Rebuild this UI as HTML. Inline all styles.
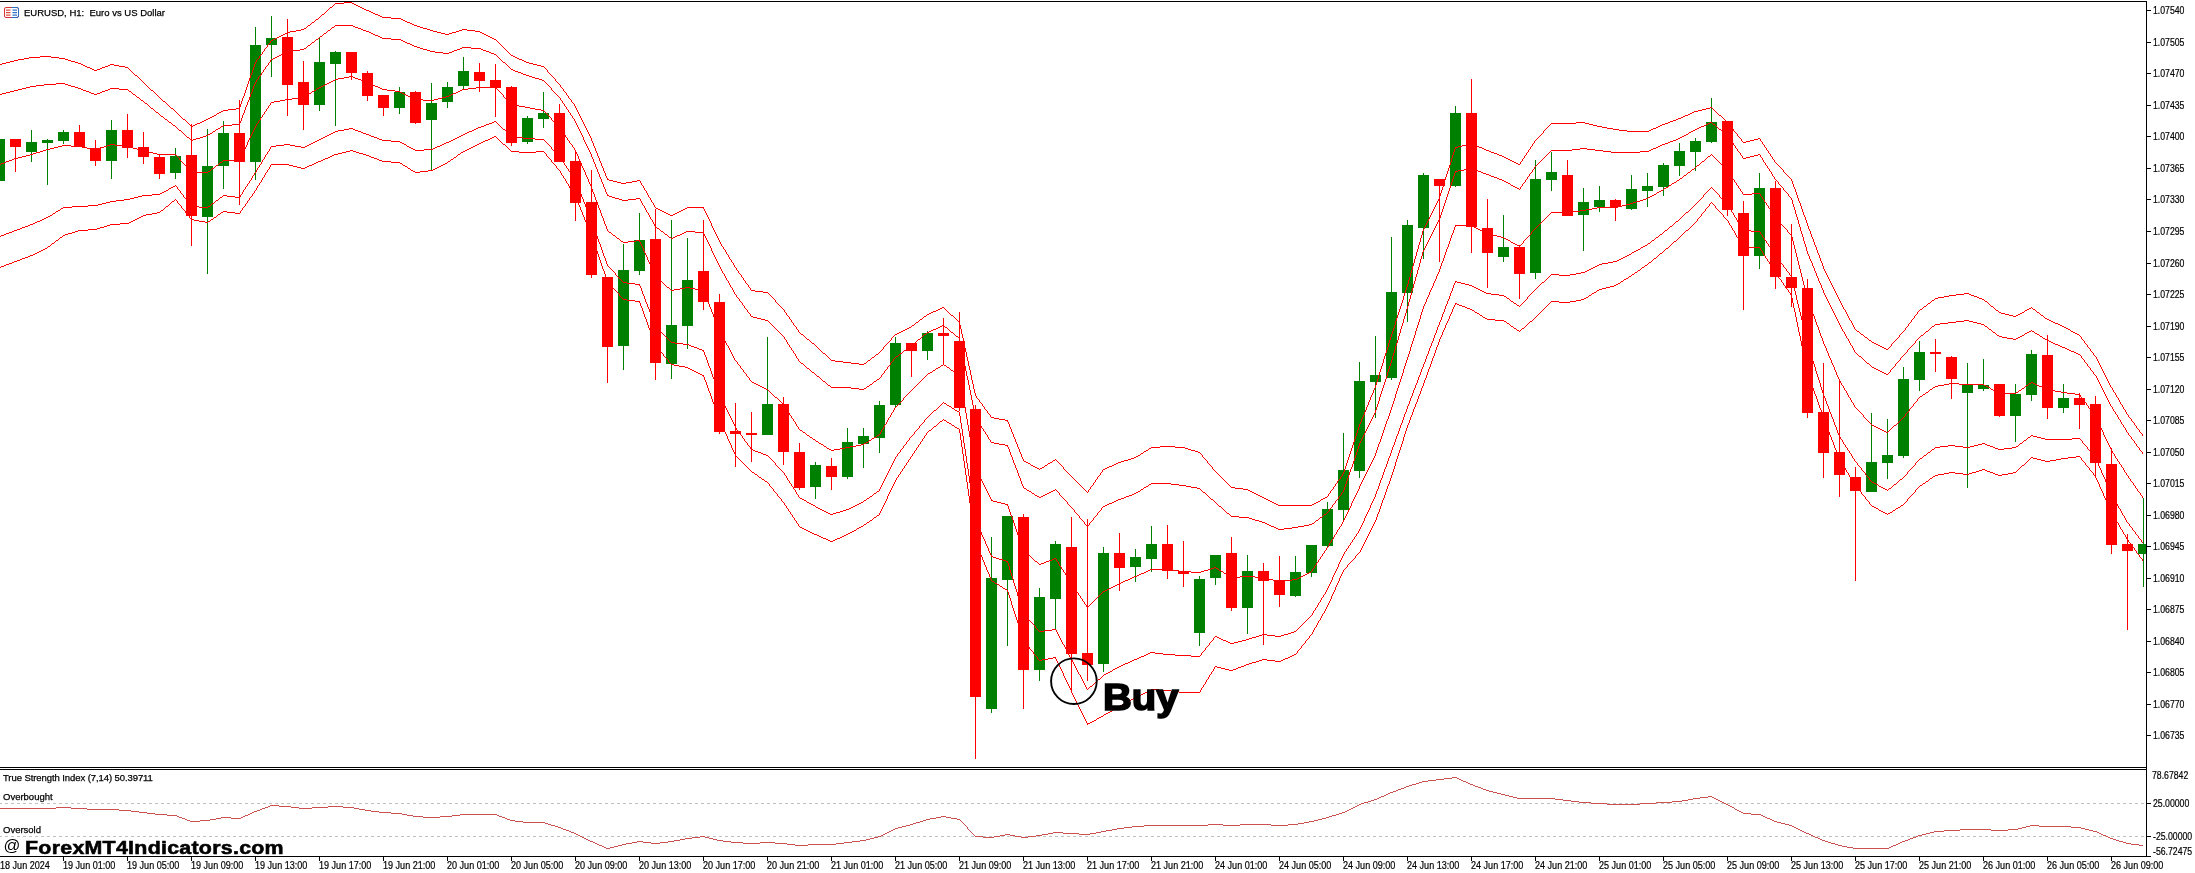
<!DOCTYPE html><html><head><meta charset="utf-8"><title>EURUSD H1</title><style>
html,body{margin:0;padding:0;background:#fff;}
body{width:2195px;height:873px;position:relative;overflow:hidden;font-family:"Liberation Sans",sans-serif;color:#000;}
#tx{position:absolute;left:0;top:0;width:2195px;height:873px;will-change:transform;}
.t{position:absolute;white-space:nowrap;line-height:1;}
.ax{font-size:10px;left:2152.6px;-webkit-text-stroke:0.2px #000;transform-origin:0 0;transform:scaleX(0.87);}
.dt{font-size:10px;top:861.2px;-webkit-text-stroke:0.2px #000;transform-origin:0 0;transform:scaleX(0.905);}
.sm{font-size:9.5px;-webkit-text-stroke:0.25px #000;}
</style></head><body>
<svg width="2195" height="873" viewBox="0 0 2195 873" style="position:absolute;left:0;top:0" shape-rendering="crispEdges">
<defs><clipPath id="cm"><rect x="0" y="2" width="2146" height="765"/></clipPath><clipPath id="ci"><rect x="0" y="770" width="2146" height="86"/></clipPath></defs>
<g clip-path="url(#cm)">
<path d="M-1 139h1v42h-1zM-6 139h11v42h-11zM31 130h1v32h-1zM26 142h11v10h-11zM47 139h1v46h-1zM42 140h11v3h-11zM63 130h1v14h-1zM58 132h11v9h-11zM111 120h1v59h-1zM106 130h11v31h-11zM175 148h1v31h-1zM170 156h11v17h-11zM207 129h1v145h-1zM202 166h11v51h-11zM223 121h1v68h-1zM218 133h11v33h-11zM255 27h1v153h-1zM250 45h11v117h-11zM271 16h1v61h-1zM266 38h11v7h-11zM319 38h1v73h-1zM314 62h11v43h-11zM335 51h1v75h-1zM330 52h11v12h-11zM399 87h1v27h-1zM394 92h11v16h-11zM431 83h1v87h-1zM426 103h11v17h-11zM447 82h1v26h-1zM442 87h11v15h-11zM463 57h1v32h-1zM458 71h11v15h-11zM527 116h1v28h-1zM522 118h11v24h-11zM543 92h1v36h-1zM538 113h11v6h-11zM623 244h1v126h-1zM618 270h11v76h-11zM639 213h1v62h-1zM634 240h11v31h-11zM671 220h1v159h-1zM666 325h11v39h-11zM687 238h1v111h-1zM682 280h11v46h-11zM767 337h1v98h-1zM762 404h11v31h-11zM815 462h1v37h-1zM810 465h11v22h-11zM847 428h1v51h-1zM842 442h11v35h-11zM863 428h1v40h-1zM858 436h11v8h-11zM879 401h1v52h-1zM874 405h11v33h-11zM895 337h1v70h-1zM890 343h11v62h-11zM927 331h1v29h-1zM922 333h11v18h-11zM991 537h1v176h-1zM986 578h11v131h-11zM1007 516h1v130h-1zM1002 516h11v64h-11zM1039 588h1v93h-1zM1034 597h11v73h-11zM1055 541h1v88h-1zM1050 544h11v55h-11zM1103 547h1v125h-1zM1098 553h11v111h-11zM1135 549h1v33h-1zM1130 557h11v10h-11zM1151 526h1v46h-1zM1146 544h11v15h-11zM1199 576h1v70h-1zM1194 579h11v54h-11zM1215 555h1v30h-1zM1210 555h11v23h-11zM1247 555h1v79h-1zM1242 571h11v37h-11zM1295 556h1v41h-1zM1290 572h11v24h-11zM1311 545h1v32h-1zM1306 545h11v28h-11zM1327 502h1v46h-1zM1322 509h11v37h-11zM1343 433h1v89h-1zM1338 470h11v40h-11zM1359 362h1v116h-1zM1354 381h11v90h-11zM1375 336h1v82h-1zM1370 375h11v7h-11zM1391 237h1v143h-1zM1386 292h11v86h-11zM1407 220h1v102h-1zM1402 225h11v68h-11zM1423 173h1v86h-1zM1418 175h11v53h-11zM1455 106h1v81h-1zM1450 113h11v73h-11zM1503 215h1v47h-1zM1498 247h11v10h-11zM1535 160h1v119h-1zM1530 179h11v94h-11zM1551 152h1v39h-1zM1546 172h11v8h-11zM1583 188h1v63h-1zM1578 202h11v13h-11zM1599 186h1v26h-1zM1594 200h11v7h-11zM1631 175h1v35h-1zM1626 189h11v20h-11zM1647 173h1v34h-1zM1642 186h11v5h-11zM1663 163h1v33h-1zM1658 165h11v22h-11zM1679 143h1v33h-1zM1674 151h11v15h-11zM1695 138h1v33h-1zM1690 141h11v11h-11zM1711 98h1v45h-1zM1706 122h11v20h-11zM1759 173h1v96h-1zM1754 188h11v68h-11zM1871 413h1v79h-1zM1866 462h11v30h-11zM1887 419h1v60h-1zM1882 455h11v8h-11zM1903 367h1v91h-1zM1898 379h11v77h-11zM1919 341h1v50h-1zM1914 352h11v28h-11zM1967 363h1v125h-1zM1962 385h11v8h-11zM1983 359h1v32h-1zM1978 385h11v4h-11zM2015 384h1v58h-1zM2010 394h11v22h-11zM2031 350h1v51h-1zM2026 354h11v41h-11zM2063 384h1v29h-1zM2058 398h11v10h-11zM2143 498h1v89h-1zM2138 544h11v10h-11z" fill="#008000"/>
<path d="M15 139h1v33h-1zM10 139h11v8h-11zM79 125h1v22h-1zM74 132h11v15h-11zM95 140h1v26h-1zM90 148h11v13h-11zM127 114h1v44h-1zM122 130h11v18h-11zM143 132h1v32h-1zM138 147h11v10h-11zM159 155h1v24h-1zM154 157h11v17h-11zM191 124h1v122h-1zM186 155h11v61h-11zM239 100h1v105h-1zM234 133h11v29h-11zM287 19h1v97h-1zM282 37h11v48h-11zM303 61h1v69h-1zM298 82h11v23h-11zM351 52h1v28h-1zM346 52h11v21h-11zM367 71h1v30h-1zM362 73h11v23h-11zM383 95h1v21h-1zM378 95h11v13h-11zM415 91h1v33h-1zM410 92h11v31h-11zM479 63h1v29h-1zM474 72h11v9h-11zM495 64h1v53h-1zM490 80h11v8h-11zM511 86h1v60h-1zM506 87h11v56h-11zM559 104h1v58h-1zM554 113h11v49h-11zM575 151h1v70h-1zM570 161h11v42h-11zM591 170h1v108h-1zM586 202h11v73h-11zM607 277h1v106h-1zM602 277h11v70h-11zM655 209h1v171h-1zM650 239h11v124h-11zM703 220h1v90h-1zM698 271h11v31h-11zM719 294h1v140h-1zM714 302h11v130h-11zM735 403h1v64h-1zM730 431h11v3h-11zM751 412h1v50h-1zM746 433h11v2h-11zM783 397h1v68h-1zM778 404h11v48h-11zM799 443h1v47h-1zM794 452h11v36h-11zM831 458h1v32h-1zM826 466h11v11h-11zM911 343h1v34h-1zM906 343h11v8h-11zM943 318h1v46h-1zM938 333h11v3h-11zM959 312h1v99h-1zM954 341h11v67h-11zM975 405h1v354h-1zM970 409h11v288h-11zM1023 514h1v195h-1zM1018 517h11v153h-11zM1071 517h1v175h-1zM1066 547h11v107h-11zM1087 519h1v162h-1zM1082 653h11v12h-11zM1119 533h1v58h-1zM1114 553h11v15h-11zM1167 525h1v54h-1zM1162 544h11v27h-11zM1183 541h1v46h-1zM1178 571h11v3h-11zM1231 537h1v74h-1zM1226 553h11v55h-11zM1263 563h1v82h-1zM1258 571h11v10h-11zM1279 556h1v51h-1zM1274 580h11v15h-11zM1439 179h1v83h-1zM1434 179h11v7h-11zM1471 79h1v174h-1zM1466 113h11v114h-11zM1487 199h1v89h-1zM1482 228h11v25h-11zM1519 245h1v54h-1zM1514 247h11v27h-11zM1567 160h1v56h-1zM1562 175h11v41h-11zM1615 199h1v22h-1zM1610 200h11v7h-11zM1727 121h1v95h-1zM1722 121h11v89h-11zM1743 201h1v109h-1zM1738 213h11v43h-11zM1775 181h1v108h-1zM1770 188h11v89h-11zM1791 224h1v83h-1zM1786 277h11v11h-11zM1807 279h1v139h-1zM1802 288h11v125h-11zM1823 363h1v115h-1zM1818 412h11v41h-11zM1839 380h1v117h-1zM1834 452h11v23h-11zM1855 467h1v114h-1zM1850 477h11v14h-11zM1935 339h1v33h-1zM1930 352h11v2h-11zM1951 356h1v43h-1zM1946 357h11v22h-11zM1999 384h1v33h-1zM1994 384h11v32h-11zM2047 335h1v84h-1zM2042 355h11v53h-11zM2079 393h1v36h-1zM2074 398h11v7h-11zM2095 396h1v82h-1zM2090 404h11v59h-11zM2111 448h1v106h-1zM2106 464h11v81h-11zM2127 534h1v96h-1zM2122 544h11v7h-11z" fill="#ff0000"/>
<path d="M-1 64.5h3M2 63.5h4M6 62.5h4M10 61.5h4M14 60.5h1M15 60.5h3M18 59.5h6M24 58.5h5M29 57.5h2M31 57.5h9M40 56.5h7M47 56.5h4M51 57.5h8M59 58.5h4M63 58.5h2M65 59.5h3M68 60.5h3M71 61.5h4M75 62.5h3M78 63.5h1M79 63.5h2M81 64.5h2M83 65.5h2M85 66.5h2M87 67.5h3M90 68.5h2M92 69.5h2M94 70.5h1M95 70.5h2M97 69.5h3M100 68.5h2M102 67.5h3M105 66.5h3M108 65.5h2M110 64.5h1M111 64.5h3M114 65.5h5M119 66.5h6M125 67.5h2M127 67.5h1M128 68.5h1M129 69.5h1M130 70.5h1M131 71.5h1M132 72.5h1M133 73.5h1M134 74.5h1M135 75.5h2M137 76.5h1M138 77.5h1M139 78.5h1M140 79.5h1M141 80.5h1M142 81.5h1M143 82.5h1M144 83.5h1M145 84.5h1M146 85.5h1M147 86.5h1M148 87.5h1M149 88.5h1M150 89.5h1M151 90.5h2M153 91.5h1M154 92.5h1M155 93.5h1M156 94.5h1M157 95.5h1M158 96.5h1M159 97.5h1M160 98.5h1M161 99.5h1M162 100.5h1M163 101.5h2M165 102.5h1M166 103.5h1M167 104.5h1M168 105.5h1M169 106.5h1M170 107.5h1M171 108.5h2M173 109.5h1M174 110.5h1M175 111.5h1M176 112.5h1M177 113.5h1M178 114.5h1M179 115.5h1M180 116.5h1M181 117.5h1M182 118.5h1M183 119.5h2M185 120.5h1M186 121.5h1M187 122.5h1M188 123.5h1M189 124.5h1M190 125.5h1M191 126.5h2M193 125.5h2M195 124.5h2M197 123.5h3M200 122.5h2M202 121.5h2M204 120.5h2M206 119.5h1M207 119.5h1M208 118.5h2M210 117.5h2M212 116.5h2M214 115.5h2M216 114.5h1M217 113.5h2M219 112.5h2M221 111.5h2M223 110.5h5M228 109.5h8M236 108.5h3M271 40.5h2M273 39.5h2M275 38.5h2M277 37.5h2M279 36.5h2M281 35.5h2M283 34.5h2M285 33.5h2M287 32.5h3M290 31.5h6M296 30.5h5M301 29.5h2M303 29.5h1M304 28.5h2M306 27.5h1M307 26.5h1M308 25.5h2M310 24.5h1M311 23.5h1M312 22.5h2M314 21.5h1M315 20.5h1M316 19.5h2M318 18.5h1M319 17.5h1M320 16.5h1M321 15.5h1M322 14.5h2M324 13.5h1M325 12.5h1M326 11.5h1M327 10.5h1M328 9.5h1M329 8.5h1M330 7.5h2M332 6.5h1M333 5.5h1M334 4.5h1M335 3.5h9M344 2.5h7M351 2.5h1M352 3.5h2M354 4.5h2M356 5.5h2M358 6.5h2M360 7.5h2M362 8.5h2M364 9.5h2M366 10.5h1M367 10.5h2M369 11.5h2M371 12.5h2M373 13.5h2M375 14.5h3M378 15.5h2M380 16.5h2M382 17.5h1M383 17.5h8M391 18.5h8M399 18.5h2M401 19.5h2M403 20.5h2M405 21.5h2M407 22.5h3M410 23.5h2M412 24.5h2M414 25.5h1M415 25.5h2M417 26.5h3M420 27.5h3M423 28.5h4M427 29.5h3M430 30.5h1M431 30.5h2M433 31.5h4M437 32.5h4M441 33.5h4M445 34.5h2M447 34.5h2M449 33.5h3M452 32.5h4M456 31.5h3M459 30.5h3M462 29.5h1M463 29.5h4M467 30.5h8M475 31.5h4M479 31.5h1M480 32.5h2M482 33.5h2M484 34.5h2M486 35.5h2M488 36.5h2M490 37.5h2M492 38.5h2M494 39.5h1M495 39.5h1M496 40.5h1M497 41.5h1M498 42.5h1M499 43.5h1M500 44.5h1M501 45.5h1M502 46.5h1M503 47.5h1M504 48.5h1M505 49.5h1M506 50.5h1M507 51.5h1M508 52.5h1M509 53.5h1M510 54.5h1M511 55.5h2M513 56.5h2M515 57.5h2M517 58.5h2M519 59.5h3M522 60.5h2M524 61.5h2M526 62.5h1M527 62.5h2M529 63.5h4M533 64.5h4M537 65.5h4M541 66.5h2M607 179.5h2M609 180.5h4M613 181.5h4M617 182.5h4M621 183.5h2M623 183.5h3M626 182.5h6M632 181.5h5M637 180.5h2M655 207.5h1M656 208.5h2M658 209.5h2M660 210.5h2M662 211.5h2M664 212.5h2M666 213.5h2M668 214.5h2M670 215.5h1M671 215.5h2M673 214.5h2M675 213.5h2M677 212.5h2M679 211.5h2M681 210.5h2M683 209.5h2M685 208.5h2M687 207.5h16M751 290.5h4M755 291.5h8M763 292.5h4M799 332.5h1M800 333.5h1M801 334.5h2M803 335.5h1M804 336.5h1M805 337.5h1M806 338.5h1M807 339.5h2M809 340.5h1M810 341.5h1M811 342.5h1M812 343.5h2M814 344.5h1M815 345.5h1M816 346.5h1M817 347.5h1M818 348.5h1M819 349.5h1M820 350.5h1M821 351.5h1M822 352.5h1M823 353.5h2M825 354.5h1M826 355.5h1M827 356.5h1M828 357.5h1M829 358.5h1M830 359.5h1M831 360.5h4M835 361.5h8M843 362.5h4M847 362.5h4M851 363.5h8M859 364.5h4M863 364.5h1M864 363.5h2M866 362.5h1M867 361.5h1M868 360.5h2M870 359.5h1M871 358.5h1M872 357.5h2M874 356.5h1M875 355.5h1M876 354.5h2M878 353.5h1M895 334.5h2M897 333.5h2M899 332.5h2M901 331.5h2M903 330.5h2M905 329.5h2M907 328.5h2M909 327.5h2M911 326.5h1M912 325.5h2M914 324.5h1M915 323.5h1M916 322.5h2M918 321.5h1M919 320.5h1M920 319.5h2M922 318.5h1M923 317.5h1M924 316.5h2M926 315.5h1M927 314.5h2M929 313.5h2M931 312.5h2M933 311.5h3M936 310.5h2M938 309.5h2M940 308.5h2M942 307.5h1M943 307.5h1M944 308.5h1M945 309.5h1M946 310.5h1M947 311.5h1M948 312.5h1M949 313.5h1M950 314.5h1M951 315.5h2M953 316.5h1M954 317.5h1M955 318.5h1M956 319.5h1M957 320.5h1M958 321.5h1M991 417.5h3M994 418.5h5M999 419.5h6M1005 420.5h2M1023 460.5h1M1024 461.5h2M1026 462.5h2M1028 463.5h2M1030 464.5h1M1031 465.5h2M1033 466.5h2M1035 467.5h2M1037 468.5h2M1039 469.5h1M1040 468.5h2M1042 467.5h2M1044 466.5h1M1045 465.5h2M1047 464.5h1M1048 463.5h2M1050 462.5h2M1052 461.5h1M1053 460.5h2M1071 476.5h1M1072 477.5h1M1073 478.5h1M1074 479.5h1M1075 480.5h1M1076 481.5h1M1077 482.5h1M1078 483.5h1M1079 484.5h1M1080 485.5h1M1081 486.5h1M1082 487.5h1M1083 488.5h1M1084 489.5h1M1085 490.5h1M1086 491.5h1M1103 469.5h2M1105 468.5h2M1107 467.5h2M1109 466.5h3M1112 465.5h2M1114 464.5h2M1116 463.5h2M1118 462.5h1M1119 462.5h2M1121 461.5h3M1124 460.5h4M1128 459.5h3M1131 458.5h3M1134 457.5h1M1135 457.5h1M1136 456.5h2M1138 455.5h2M1140 454.5h1M1141 453.5h2M1143 452.5h1M1144 451.5h2M1146 450.5h2M1148 449.5h1M1149 448.5h2M1151 447.5h9M1160 446.5h7M1167 446.5h8M1175 447.5h8M1183 447.5h2M1185 448.5h3M1188 449.5h3M1191 450.5h4M1195 451.5h3M1198 452.5h1M1215 471.5h1M1216 472.5h1M1217 473.5h1M1218 474.5h1M1219 475.5h1M1220 476.5h1M1221 477.5h1M1222 478.5h1M1223 479.5h1M1224 480.5h1M1225 481.5h1M1226 482.5h1M1227 483.5h1M1228 484.5h1M1229 485.5h1M1230 486.5h1M1231 487.5h4M1235 488.5h8M1243 489.5h4M1247 489.5h1M1248 490.5h2M1250 491.5h2M1252 492.5h2M1254 493.5h2M1256 494.5h2M1258 495.5h2M1260 496.5h2M1262 497.5h1M1263 497.5h1M1264 498.5h2M1266 499.5h2M1268 500.5h2M1270 501.5h2M1272 502.5h2M1274 503.5h2M1276 504.5h2M1278 505.5h1M1279 505.5h16M1295 505.5h16M1311 505.5h1M1312 504.5h2M1314 503.5h2M1316 502.5h2M1318 501.5h2M1320 500.5h1M1321 499.5h2M1323 498.5h2M1325 497.5h2M1455 147.5h3M1458 146.5h4M1462 145.5h4M1466 144.5h4M1470 143.5h1M1471 143.5h2M1473 144.5h2M1475 145.5h2M1477 146.5h2M1479 147.5h3M1482 148.5h2M1484 149.5h2M1486 150.5h1M1487 150.5h2M1489 151.5h2M1491 152.5h3M1494 153.5h3M1497 154.5h2M1499 155.5h3M1502 156.5h1M1503 156.5h1M1504 157.5h2M1506 158.5h2M1508 159.5h2M1510 160.5h2M1512 161.5h2M1514 162.5h2M1516 163.5h2M1518 164.5h1M1551 123.5h16M1567 123.5h9M1576 122.5h7M1583 122.5h2M1585 123.5h4M1589 124.5h4M1593 125.5h4M1597 126.5h2M1599 126.5h3M1602 127.5h5M1607 128.5h6M1613 129.5h2M1615 129.5h4M1619 130.5h8M1627 131.5h4M1631 131.5h16M1647 131.5h2M1649 130.5h2M1651 129.5h2M1653 128.5h3M1656 127.5h2M1658 126.5h2M1660 125.5h2M1662 124.5h1M1663 124.5h2M1665 123.5h3M1668 122.5h2M1670 121.5h3M1673 120.5h3M1676 119.5h2M1678 118.5h1M1679 118.5h2M1681 117.5h2M1683 116.5h2M1685 115.5h3M1688 114.5h2M1690 113.5h2M1692 112.5h2M1694 111.5h1M1695 111.5h3M1698 110.5h4M1702 109.5h4M1706 108.5h4M1710 107.5h1M1711 107.5h1M1712 108.5h1M1713 109.5h1M1714 110.5h1M1715 111.5h1M1716 112.5h1M1717 113.5h1M1718 114.5h1M1719 115.5h2M1721 116.5h1M1722 117.5h1M1723 118.5h1M1724 119.5h1M1725 120.5h1M1726 121.5h1M1743 142.5h3M1746 141.5h4M1750 140.5h4M1754 139.5h4M1758 138.5h1M1855 329.5h1M1856 330.5h1M1857 331.5h2M1859 332.5h1M1860 333.5h1M1861 334.5h2M1863 335.5h1M1864 336.5h1M1865 337.5h2M1867 338.5h1M1868 339.5h1M1869 340.5h2M1871 341.5h1M1872 342.5h2M1874 343.5h2M1876 344.5h2M1878 345.5h2M1880 346.5h2M1882 347.5h2M1884 348.5h2M1886 349.5h1M1919 310.5h1M1920 309.5h2M1922 308.5h1M1923 307.5h1M1924 306.5h2M1926 305.5h1M1927 304.5h1M1928 303.5h2M1930 302.5h1M1931 301.5h1M1932 300.5h2M1934 299.5h1M1935 298.5h3M1938 297.5h6M1944 296.5h5M1949 295.5h2M1951 295.5h5M1956 294.5h8M1964 293.5h3M1967 293.5h2M1969 294.5h2M1971 295.5h3M1974 296.5h3M1977 297.5h2M1979 298.5h3M1982 299.5h1M1983 299.5h1M1984 300.5h1M1985 301.5h2M1987 302.5h1M1988 303.5h1M1989 304.5h1M1990 305.5h1M1991 306.5h2M1993 307.5h1M1994 308.5h1M1995 309.5h1M1996 310.5h2M1998 311.5h1M1999 312.5h2M2001 313.5h4M2005 314.5h4M2009 315.5h4M2013 316.5h2M2015 316.5h1M2016 315.5h2M2018 314.5h2M2020 313.5h2M2022 312.5h2M2024 311.5h1M2025 310.5h2M2027 309.5h2M2029 308.5h2M2031 307.5h1M2032 308.5h1M2033 309.5h2M2035 310.5h1M2036 311.5h1M2037 312.5h2M2039 313.5h1M2040 314.5h1M2041 315.5h2M2043 316.5h1M2044 317.5h1M2045 318.5h2M2047 319.5h2M2049 320.5h2M2051 321.5h2M2053 322.5h2M2055 323.5h3M2058 324.5h2M2060 325.5h2M2062 326.5h1M2063 326.5h1M2064 327.5h2M2066 328.5h2M2068 329.5h2M2070 330.5h1M2071 331.5h2M2073 332.5h2M2075 333.5h2M2077 334.5h2M239.5 107v2M240.5 104v3M241.5 101v3M242.5 98v3M243.5 96v2M244.5 93v3M245.5 90v3M246.5 87v3M247.5 84v3M248.5 81v3M249.5 78v3M250.5 75v3M251.5 73v2M252.5 70v3M253.5 67v3M254.5 64v3M255.5 63v1M255.5 62v1M256.5 60v2M257.5 59v1M258.5 58v1M259.5 56v2M260.5 55v1M261.5 54v1M262.5 52v2M263.5 51v1M264.5 49v2M265.5 48v1M266.5 47v1M267.5 45v2M268.5 44v1M269.5 43v1M270.5 41v2M543.5 66v1M544.5 67v1M545.5 68v1M546.5 69v1M547.5 70v2M548.5 72v1M549.5 73v1M550.5 74v1M551.5 75v1M552.5 76v1M553.5 77v1M554.5 78v1M555.5 79v2M556.5 81v1M557.5 82v1M558.5 83v1M559.5 84v1M560.5 85v2M561.5 87v1M562.5 88v1M563.5 89v2M564.5 91v1M565.5 92v1M566.5 93v2M567.5 95v1M568.5 96v2M569.5 98v1M570.5 99v1M571.5 100v2M572.5 102v1M573.5 103v1M574.5 104v2M575.5 106v2M576.5 108v2M577.5 110v2M578.5 112v2M579.5 114v2M580.5 116v2M581.5 118v2M582.5 120v2M583.5 122v2M584.5 124v2M585.5 126v2M586.5 128v2M587.5 130v2M588.5 132v2M589.5 134v2M590.5 136v2M591.5 138v1M591.5 139v2M592.5 141v2M593.5 143v3M594.5 146v2M595.5 148v3M596.5 151v2M597.5 153v3M598.5 156v2M599.5 158v3M600.5 161v2M601.5 163v3M602.5 166v2M603.5 168v3M604.5 171v2M605.5 173v3M606.5 176v2M607.5 178v1M639.5 180v1M640.5 181v2M641.5 183v2M642.5 185v1M643.5 186v2M644.5 188v2M645.5 190v1M646.5 191v2M647.5 193v2M648.5 195v2M649.5 197v1M650.5 198v2M651.5 200v2M652.5 202v1M653.5 203v2M654.5 205v2M703.5 207v2M704.5 209v2M705.5 211v2M706.5 213v2M707.5 215v2M708.5 217v2M709.5 219v2M710.5 221v2M711.5 223v3M712.5 226v2M713.5 228v2M714.5 230v2M715.5 232v2M716.5 234v2M717.5 236v2M718.5 238v2M719.5 240v1M719.5 241v1M720.5 242v2M721.5 244v2M722.5 246v1M723.5 247v2M724.5 249v1M725.5 250v2M726.5 252v2M727.5 254v1M728.5 255v2M729.5 257v2M730.5 259v1M731.5 260v2M732.5 262v1M733.5 263v2M734.5 265v2M735.5 267v1M736.5 268v2M737.5 270v1M738.5 271v2M739.5 273v1M740.5 274v1M741.5 275v2M742.5 277v1M743.5 278v2M744.5 280v1M745.5 281v2M746.5 283v1M747.5 284v1M748.5 285v2M749.5 287v1M750.5 288v2M767.5 292v1M768.5 293v1M769.5 294v1M770.5 295v1M771.5 296v1M772.5 297v1M773.5 298v1M774.5 299v1M775.5 300v2M776.5 302v1M777.5 303v1M778.5 304v1M779.5 305v1M780.5 306v1M781.5 307v1M782.5 308v1M783.5 309v1M784.5 310v2M785.5 312v1M786.5 313v2M787.5 315v1M788.5 316v1M789.5 317v2M790.5 319v1M791.5 320v2M792.5 322v1M793.5 323v2M794.5 325v1M795.5 326v1M796.5 327v2M797.5 329v1M798.5 330v2M879.5 352v1M880.5 351v1M881.5 350v1M882.5 349v1M883.5 347v2M884.5 346v1M885.5 345v1M886.5 344v1M887.5 343v1M888.5 342v1M889.5 341v1M890.5 340v1M891.5 338v2M892.5 337v1M893.5 336v1M894.5 335v1M959.5 322v3M960.5 325v4M961.5 329v5M962.5 334v4M963.5 338v5M964.5 343v5M965.5 348v4M966.5 352v5M967.5 357v4M968.5 361v5M969.5 366v4M970.5 370v5M971.5 375v5M972.5 380v4M973.5 384v5M974.5 389v4M975.5 393v2M975.5 395v1M976.5 396v2M977.5 398v1M978.5 399v1M979.5 400v2M980.5 402v1M981.5 403v1M982.5 404v2M983.5 406v1M984.5 407v2M985.5 409v1M986.5 410v1M987.5 411v2M988.5 413v1M989.5 414v1M990.5 415v2M1007.5 420v2M1008.5 422v2M1009.5 424v3M1010.5 427v2M1011.5 429v3M1012.5 432v2M1013.5 434v3M1014.5 437v2M1015.5 439v3M1016.5 442v2M1017.5 444v3M1018.5 447v2M1019.5 449v3M1020.5 452v2M1021.5 454v3M1022.5 457v2M1023.5 459v1M1055.5 459v1M1056.5 460v1M1057.5 461v1M1058.5 462v1M1059.5 463v1M1060.5 464v1M1061.5 465v1M1062.5 466v1M1063.5 467v2M1064.5 469v1M1065.5 470v1M1066.5 471v1M1067.5 472v1M1068.5 473v1M1069.5 474v1M1070.5 475v1M1087.5 492v1M1088.5 490v2M1089.5 489v1M1090.5 487v2M1091.5 486v1M1092.5 485v1M1093.5 483v2M1094.5 482v1M1095.5 480v2M1096.5 479v1M1097.5 477v2M1098.5 476v1M1099.5 475v1M1100.5 473v2M1101.5 472v1M1102.5 470v2M1199.5 452v1M1200.5 453v1M1201.5 454v1M1202.5 455v2M1203.5 457v1M1204.5 458v1M1205.5 459v1M1206.5 460v1M1207.5 461v2M1208.5 463v1M1209.5 464v1M1210.5 465v1M1211.5 466v1M1212.5 467v2M1213.5 469v1M1214.5 470v1M1327.5 496v1M1328.5 494v2M1329.5 493v1M1330.5 491v2M1331.5 490v1M1332.5 489v1M1333.5 487v2M1334.5 486v1M1335.5 484v2M1336.5 483v1M1337.5 481v2M1338.5 480v1M1339.5 479v1M1340.5 477v2M1341.5 476v1M1342.5 474v2M1343.5 472v2M1344.5 469v3M1345.5 466v3M1346.5 463v3M1347.5 460v3M1348.5 457v3M1349.5 454v3M1350.5 451v3M1351.5 448v3M1352.5 445v3M1353.5 442v3M1354.5 439v3M1355.5 436v3M1356.5 433v3M1357.5 430v3M1358.5 427v3M1359.5 426v1M1359.5 424v2M1360.5 422v2M1361.5 419v3M1362.5 417v2M1363.5 415v2M1364.5 412v3M1365.5 410v2M1366.5 407v3M1367.5 405v2M1368.5 402v3M1369.5 400v2M1370.5 397v3M1371.5 395v2M1372.5 393v2M1373.5 390v3M1374.5 388v2M1375.5 387v1M1375.5 385v2M1376.5 382v3M1377.5 379v3M1378.5 375v4M1379.5 372v3M1380.5 369v3M1381.5 366v3M1382.5 363v3M1383.5 359v4M1384.5 356v3M1385.5 353v3M1386.5 350v3M1387.5 347v3M1388.5 343v4M1389.5 340v3M1390.5 337v3M1391.5 336v1M1391.5 334v2M1392.5 331v3M1393.5 328v3M1394.5 325v3M1395.5 321v4M1396.5 318v3M1397.5 315v3M1398.5 312v3M1399.5 309v3M1400.5 306v3M1401.5 303v3M1402.5 300v3M1403.5 296v4M1404.5 293v3M1405.5 290v3M1406.5 287v3M1407.5 286v1M1407.5 284v2M1408.5 280v4M1409.5 277v3M1410.5 273v4M1411.5 270v3M1412.5 266v4M1413.5 263v3M1414.5 259v4M1415.5 256v3M1416.5 252v4M1417.5 249v3M1418.5 245v4M1419.5 242v3M1420.5 238v4M1421.5 235v3M1422.5 231v4M1423.5 230v1M1423.5 229v1M1424.5 227v2M1425.5 225v2M1426.5 223v2M1427.5 221v2M1428.5 219v2M1429.5 217v2M1430.5 215v2M1431.5 213v2M1432.5 211v2M1433.5 209v2M1434.5 207v2M1435.5 205v2M1436.5 203v2M1437.5 201v2M1438.5 199v2M1439.5 198v1M1439.5 196v2M1440.5 193v3M1441.5 190v3M1442.5 187v3M1443.5 183v4M1444.5 180v3M1445.5 177v3M1446.5 174v3M1447.5 171v3M1448.5 168v3M1449.5 165v3M1450.5 162v3M1451.5 158v4M1452.5 155v3M1453.5 152v3M1454.5 149v3M1455.5 148v1M1519.5 164v1M1520.5 162v2M1521.5 161v1M1522.5 159v2M1523.5 158v1M1524.5 156v2M1525.5 155v1M1526.5 153v2M1527.5 152v1M1528.5 150v2M1529.5 149v1M1530.5 147v2M1531.5 146v1M1532.5 144v2M1533.5 143v1M1534.5 141v2M1535.5 140v1M1536.5 139v1M1537.5 138v1M1538.5 137v1M1539.5 136v1M1540.5 135v1M1541.5 134v1M1542.5 133v1M1543.5 131v2M1544.5 130v1M1545.5 129v1M1546.5 128v1M1547.5 127v1M1548.5 126v1M1549.5 125v1M1550.5 124v1M1727.5 122v1M1728.5 123v1M1729.5 124v2M1730.5 126v1M1731.5 127v1M1732.5 128v1M1733.5 129v2M1734.5 131v1M1735.5 132v1M1736.5 133v1M1737.5 134v2M1738.5 136v1M1739.5 137v1M1740.5 138v1M1741.5 139v2M1742.5 141v1M1759.5 138v1M1760.5 139v2M1761.5 141v1M1762.5 142v2M1763.5 144v1M1764.5 145v2M1765.5 147v1M1766.5 148v2M1767.5 150v1M1768.5 151v2M1769.5 153v1M1770.5 154v2M1771.5 156v1M1772.5 157v2M1773.5 159v1M1774.5 160v2M1775.5 162v1M1776.5 163v1M1777.5 164v1M1778.5 165v1M1779.5 166v1M1780.5 167v1M1781.5 168v1M1782.5 169v1M1783.5 170v2M1784.5 172v1M1785.5 173v1M1786.5 174v1M1787.5 175v1M1788.5 176v1M1789.5 177v1M1790.5 178v1M1791.5 179v2M1792.5 181v3M1793.5 184v3M1794.5 187v2M1795.5 189v3M1796.5 192v3M1797.5 195v3M1798.5 198v3M1799.5 201v2M1800.5 203v3M1801.5 206v3M1802.5 209v3M1803.5 212v3M1804.5 215v2M1805.5 217v3M1806.5 220v3M1807.5 223v1M1807.5 224v2M1808.5 226v3M1809.5 229v2M1810.5 231v3M1811.5 234v3M1812.5 237v2M1813.5 239v3M1814.5 242v3M1815.5 245v2M1816.5 247v3M1817.5 250v3M1818.5 253v2M1819.5 255v3M1820.5 258v3M1821.5 261v2M1822.5 263v3M1823.5 266v1M1823.5 267v2M1824.5 269v2M1825.5 271v2M1826.5 273v2M1827.5 275v2M1828.5 277v2M1829.5 279v2M1830.5 281v2M1831.5 283v2M1832.5 285v2M1833.5 287v2M1834.5 289v2M1835.5 291v2M1836.5 293v2M1837.5 295v2M1838.5 297v2M1839.5 299v1M1839.5 300v1M1840.5 301v2M1841.5 303v2M1842.5 305v2M1843.5 307v2M1844.5 309v1M1845.5 310v2M1846.5 312v2M1847.5 314v2M1848.5 316v2M1849.5 318v2M1850.5 320v1M1851.5 321v2M1852.5 323v2M1853.5 325v2M1854.5 327v2M1887.5 349v1M1888.5 348v1M1889.5 347v1M1890.5 346v1M1891.5 344v2M1892.5 343v1M1893.5 342v1M1894.5 341v1M1895.5 340v1M1896.5 339v1M1897.5 338v1M1898.5 337v1M1899.5 335v2M1900.5 334v1M1901.5 333v1M1902.5 332v1M1903.5 331v1M1904.5 330v1M1905.5 328v2M1906.5 327v1M1907.5 326v1M1908.5 324v2M1909.5 323v1M1910.5 322v1M1911.5 320v2M1912.5 319v1M1913.5 318v1M1914.5 316v2M1915.5 315v1M1916.5 314v1M1917.5 312v2M1918.5 311v1M2079.5 335v1M2080.5 336v1M2081.5 337v2M2082.5 339v1M2083.5 340v1M2084.5 341v2M2085.5 343v1M2086.5 344v1M2087.5 345v2M2088.5 347v1M2089.5 348v1M2090.5 349v2M2091.5 351v1M2092.5 352v1M2093.5 353v2M2094.5 355v1M2095.5 356v1M2096.5 357v2M2097.5 359v2M2098.5 361v2M2099.5 363v2M2100.5 365v2M2101.5 367v2M2102.5 369v2M2103.5 371v2M2104.5 373v2M2105.5 375v2M2106.5 377v2M2107.5 379v2M2108.5 381v2M2109.5 383v2M2110.5 385v2M2111.5 387v1M2112.5 388v2M2113.5 390v2M2114.5 392v1M2115.5 393v2M2116.5 395v2M2117.5 397v1M2118.5 398v2M2119.5 400v2M2120.5 402v2M2121.5 404v1M2122.5 405v2M2123.5 407v2M2124.5 409v1M2125.5 410v2M2126.5 412v2M2127.5 414v1M2128.5 415v2M2129.5 417v1M2130.5 418v1M2131.5 419v2M2132.5 421v1M2133.5 422v1M2134.5 423v2M2135.5 425v1M2136.5 426v2M2137.5 428v1M2138.5 429v1M2139.5 430v2M2140.5 432v1M2141.5 433v1M2142.5 434v2" fill="none" stroke="#ff0000" stroke-width="1"/>
<path d="M-1 94.5h3M2 93.5h4M6 92.5h4M10 91.5h4M14 90.5h1M15 90.5h3M18 89.5h4M22 88.5h4M26 87.5h4M30 86.5h1M31 86.5h5M36 85.5h8M44 84.5h3M47 84.5h9M56 83.5h7M63 83.5h2M65 84.5h3M68 85.5h3M71 86.5h4M75 87.5h3M78 88.5h1M79 88.5h2M81 89.5h2M83 90.5h3M86 91.5h3M89 92.5h2M91 93.5h3M94 94.5h1M95 94.5h2M97 93.5h3M100 92.5h2M102 91.5h3M105 90.5h3M108 89.5h2M110 88.5h1M111 88.5h8M119 89.5h8M127 89.5h1M128 90.5h1M129 91.5h2M131 92.5h1M132 93.5h1M133 94.5h2M135 95.5h1M136 96.5h1M137 97.5h2M139 98.5h1M140 99.5h1M141 100.5h2M143 101.5h1M144 102.5h1M145 103.5h2M147 104.5h1M148 105.5h1M149 106.5h1M150 107.5h1M151 108.5h2M153 109.5h1M154 110.5h1M155 111.5h1M156 112.5h2M158 113.5h1M159 114.5h1M160 115.5h1M161 116.5h2M163 117.5h1M164 118.5h1M165 119.5h2M167 120.5h1M168 121.5h1M169 122.5h2M171 123.5h1M172 124.5h1M173 125.5h2M175 126.5h1M176 127.5h1M177 128.5h1M178 129.5h1M179 130.5h2M181 131.5h1M182 132.5h1M183 133.5h1M184 134.5h1M185 135.5h1M186 136.5h1M187 137.5h2M189 138.5h1M190 139.5h1M191 140.5h2M193 139.5h3M196 138.5h4M200 137.5h3M203 136.5h3M206 135.5h1M207 135.5h1M208 134.5h2M210 133.5h2M212 132.5h1M213 131.5h2M215 130.5h1M216 129.5h2M218 128.5h2M220 127.5h1M221 126.5h2M223 125.5h9M232 124.5h7M271 59.5h2M273 58.5h2M275 57.5h2M277 56.5h2M279 55.5h2M281 54.5h2M283 53.5h2M285 52.5h2M287 51.5h5M292 50.5h8M300 49.5h3M303 49.5h1M304 48.5h2M306 47.5h1M307 46.5h1M308 45.5h2M310 44.5h1M311 43.5h1M312 42.5h2M314 41.5h1M315 40.5h1M316 39.5h2M318 38.5h1M319 37.5h1M320 36.5h2M322 35.5h1M323 34.5h1M324 33.5h2M326 32.5h1M327 31.5h1M328 30.5h2M330 29.5h1M331 28.5h1M332 27.5h2M334 26.5h1M335 25.5h16M351 25.5h2M353 26.5h2M355 27.5h3M358 28.5h3M361 29.5h2M363 30.5h3M366 31.5h1M367 31.5h2M369 32.5h2M371 33.5h2M373 34.5h2M375 35.5h3M378 36.5h2M380 37.5h2M382 38.5h1M383 38.5h8M391 39.5h8M399 39.5h2M401 40.5h2M403 41.5h2M405 42.5h2M407 43.5h3M410 44.5h2M412 45.5h2M414 46.5h1M415 46.5h2M417 47.5h3M420 48.5h3M423 49.5h4M427 50.5h3M430 51.5h1M431 51.5h4M435 52.5h8M443 53.5h4M447 53.5h2M449 52.5h3M452 51.5h2M454 50.5h3M457 49.5h3M460 48.5h2M462 47.5h1M463 47.5h8M471 48.5h8M479 48.5h2M481 49.5h2M483 50.5h3M486 51.5h3M489 52.5h2M491 53.5h3M494 54.5h1M495 54.5h1M496 55.5h1M497 56.5h1M498 57.5h1M499 58.5h1M500 59.5h1M501 60.5h1M502 61.5h1M503 62.5h2M505 63.5h1M506 64.5h1M507 65.5h1M508 66.5h1M509 67.5h1M510 68.5h1M511 69.5h2M513 70.5h2M515 71.5h3M518 72.5h3M521 73.5h2M523 74.5h3M526 75.5h1M527 75.5h2M529 76.5h3M532 77.5h3M535 78.5h4M539 79.5h3M542 80.5h1M607 195.5h2M609 196.5h3M612 197.5h3M615 198.5h4M619 199.5h3M622 200.5h1M623 200.5h5M628 199.5h8M636 198.5h3M655 226.5h1M656 227.5h1M657 228.5h2M659 229.5h1M660 230.5h1M661 231.5h2M663 232.5h1M664 233.5h1M665 234.5h2M667 235.5h1M668 236.5h1M669 237.5h2M671 238.5h2M673 237.5h2M675 236.5h2M677 235.5h3M680 234.5h2M682 233.5h2M684 232.5h2M686 231.5h1M687 231.5h8M695 232.5h8M751 316.5h2M753 317.5h4M757 318.5h4M761 319.5h4M765 320.5h2M767 320.5h1M768 321.5h1M769 322.5h1M770 323.5h1M771 324.5h1M772 325.5h1M773 326.5h1M774 327.5h1M775 328.5h1M776 329.5h1M777 330.5h1M778 331.5h1M779 332.5h1M780 333.5h1M781 334.5h1M782 335.5h1M799 361.5h1M800 362.5h1M801 363.5h2M803 364.5h1M804 365.5h1M805 366.5h1M806 367.5h1M807 368.5h2M809 369.5h1M810 370.5h1M811 371.5h1M812 372.5h2M814 373.5h1M815 374.5h1M816 375.5h1M817 376.5h2M819 377.5h1M820 378.5h1M821 379.5h1M822 380.5h1M823 381.5h2M825 382.5h1M826 383.5h1M827 384.5h1M828 385.5h2M830 386.5h1M831 387.5h16M847 387.5h4M851 388.5h8M859 389.5h4M863 389.5h1M864 388.5h2M866 387.5h1M867 386.5h2M869 385.5h1M870 384.5h2M872 383.5h1M873 382.5h1M874 381.5h2M876 380.5h1M877 379.5h2M895 357.5h1M896 356.5h2M898 355.5h1M899 354.5h1M900 353.5h2M902 352.5h1M903 351.5h1M904 350.5h2M906 349.5h1M907 348.5h1M908 347.5h2M910 346.5h1M911 345.5h1M912 344.5h1M913 343.5h2M915 342.5h1M916 341.5h1M917 340.5h1M918 339.5h2M920 338.5h1M921 337.5h1M922 336.5h1M923 335.5h1M924 334.5h2M926 333.5h1M927 332.5h2M929 331.5h2M931 330.5h2M933 329.5h3M936 328.5h2M938 327.5h2M940 326.5h2M942 325.5h1M943 325.5h1M944 326.5h1M945 327.5h2M947 328.5h1M948 329.5h1M949 330.5h1M950 331.5h1M951 332.5h2M953 333.5h1M954 334.5h1M955 335.5h1M956 336.5h2M958 337.5h1M991 442.5h3M994 443.5h5M999 444.5h6M1005 445.5h2M1023 487.5h1M1024 488.5h2M1026 489.5h1M1027 490.5h2M1029 491.5h2M1031 492.5h1M1032 493.5h2M1034 494.5h1M1035 495.5h2M1037 496.5h2M1039 497.5h2M1041 496.5h2M1043 495.5h2M1045 494.5h2M1047 493.5h2M1049 492.5h2M1051 491.5h2M1053 490.5h2M1103 506.5h2M1105 505.5h2M1107 504.5h2M1109 503.5h3M1112 502.5h2M1114 501.5h2M1116 500.5h2M1118 499.5h1M1119 499.5h2M1121 498.5h3M1124 497.5h2M1126 496.5h3M1129 495.5h3M1132 494.5h2M1134 493.5h1M1135 493.5h1M1136 492.5h2M1138 491.5h2M1140 490.5h1M1141 489.5h2M1143 488.5h1M1144 487.5h2M1146 486.5h2M1148 485.5h1M1149 484.5h2M1151 483.5h16M1167 483.5h4M1171 484.5h8M1179 485.5h4M1183 485.5h3M1186 486.5h5M1191 487.5h6M1197 488.5h2M1199 488.5h1M1200 489.5h1M1201 490.5h1M1202 491.5h1M1203 492.5h2M1205 493.5h1M1206 494.5h1M1207 495.5h1M1208 496.5h1M1209 497.5h1M1210 498.5h1M1211 499.5h2M1213 500.5h1M1214 501.5h1M1215 502.5h1M1216 503.5h1M1217 504.5h1M1218 505.5h1M1219 506.5h2M1221 507.5h1M1222 508.5h1M1223 509.5h1M1224 510.5h1M1225 511.5h1M1226 512.5h1M1227 513.5h2M1229 514.5h1M1230 515.5h1M1231 516.5h8M1239 517.5h8M1247 517.5h2M1249 518.5h3M1252 519.5h3M1255 520.5h4M1259 521.5h3M1262 522.5h1M1263 522.5h2M1265 523.5h2M1267 524.5h2M1269 525.5h2M1271 526.5h3M1274 527.5h2M1276 528.5h2M1278 529.5h1M1279 529.5h5M1284 528.5h8M1292 527.5h3M1295 527.5h3M1298 526.5h6M1304 525.5h5M1309 524.5h2M1311 524.5h1M1312 523.5h2M1314 522.5h1M1315 521.5h1M1316 520.5h2M1318 519.5h1M1319 518.5h1M1320 517.5h2M1322 516.5h1M1323 515.5h1M1324 514.5h2M1326 513.5h1M1455 171.5h3M1458 170.5h6M1464 169.5h5M1469 168.5h2M1471 168.5h2M1473 169.5h2M1475 170.5h3M1478 171.5h3M1481 172.5h2M1483 173.5h3M1486 174.5h1M1487 174.5h2M1489 175.5h2M1491 176.5h3M1494 177.5h3M1497 178.5h2M1499 179.5h3M1502 180.5h1M1503 180.5h1M1504 181.5h2M1506 182.5h2M1508 183.5h2M1510 184.5h1M1511 185.5h2M1513 186.5h2M1515 187.5h2M1517 188.5h2M1535 166.5h1M1536 165.5h1M1537 164.5h1M1538 163.5h1M1539 162.5h1M1540 161.5h1M1541 160.5h1M1542 159.5h1M1543 158.5h1M1544 157.5h1M1545 156.5h1M1546 155.5h1M1547 154.5h1M1548 153.5h1M1549 152.5h1M1550 151.5h1M1551 150.5h16M1567 150.5h5M1572 149.5h8M1580 148.5h3M1583 148.5h4M1587 149.5h8M1595 150.5h4M1599 150.5h4M1603 151.5h8M1611 152.5h4M1615 152.5h16M1631 152.5h9M1640 151.5h7M1647 151.5h2M1649 150.5h2M1651 149.5h2M1653 148.5h3M1656 147.5h2M1658 146.5h2M1660 145.5h2M1662 144.5h1M1663 144.5h2M1665 143.5h3M1668 142.5h2M1670 141.5h3M1673 140.5h3M1676 139.5h2M1678 138.5h1M1679 138.5h1M1680 137.5h2M1682 136.5h2M1684 135.5h2M1686 134.5h2M1688 133.5h1M1689 132.5h2M1691 131.5h2M1693 130.5h2M1695 129.5h2M1697 128.5h2M1699 127.5h2M1701 126.5h3M1704 125.5h2M1706 124.5h2M1708 123.5h2M1710 122.5h1M1711 122.5h1M1712 123.5h1M1713 124.5h2M1715 125.5h1M1716 126.5h1M1717 127.5h1M1718 128.5h1M1719 129.5h2M1721 130.5h1M1722 131.5h1M1723 132.5h1M1724 133.5h2M1726 134.5h1M1743 158.5h3M1746 157.5h4M1750 156.5h4M1754 155.5h4M1758 154.5h1M1855 352.5h1M1856 353.5h1M1857 354.5h1M1858 355.5h1M1859 356.5h2M1861 357.5h1M1862 358.5h1M1863 359.5h1M1864 360.5h1M1865 361.5h1M1866 362.5h1M1867 363.5h2M1869 364.5h1M1870 365.5h1M1871 366.5h1M1872 367.5h2M1874 368.5h2M1876 369.5h2M1878 370.5h2M1880 371.5h2M1882 372.5h2M1884 373.5h2M1886 374.5h1M1919 337.5h1M1920 336.5h1M1921 335.5h2M1923 334.5h1M1924 333.5h1M1925 332.5h1M1926 331.5h2M1928 330.5h1M1929 329.5h1M1930 328.5h1M1931 327.5h1M1932 326.5h2M1934 325.5h1M1935 324.5h5M1940 323.5h8M1948 322.5h3M1951 322.5h5M1956 321.5h8M1964 320.5h3M1967 320.5h2M1969 321.5h4M1973 322.5h4M1977 323.5h4M1981 324.5h2M1983 324.5h1M1984 325.5h1M1985 326.5h2M1987 327.5h1M1988 328.5h1M1989 329.5h2M1991 330.5h1M1992 331.5h1M1993 332.5h2M1995 333.5h1M1996 334.5h1M1997 335.5h2M1999 336.5h3M2002 337.5h5M2007 338.5h6M2013 339.5h2M2015 339.5h1M2016 338.5h2M2018 337.5h2M2020 336.5h2M2022 335.5h2M2024 334.5h1M2025 333.5h2M2027 332.5h2M2029 331.5h2M2031 330.5h1M2032 331.5h2M2034 332.5h1M2035 333.5h2M2037 334.5h2M2039 335.5h1M2040 336.5h2M2042 337.5h1M2043 338.5h2M2045 339.5h2M2047 340.5h2M2049 341.5h2M2051 342.5h2M2053 343.5h2M2055 344.5h3M2058 345.5h2M2060 346.5h2M2062 347.5h1M2063 347.5h2M2065 348.5h2M2067 349.5h2M2069 350.5h2M2071 351.5h3M2074 352.5h2M2076 353.5h2M2078 354.5h1M239.5 123v2M240.5 121v2M241.5 118v3M242.5 115v3M243.5 113v2M244.5 110v3M245.5 107v3M246.5 105v2M247.5 102v3M248.5 100v2M249.5 97v3M250.5 94v3M251.5 92v2M252.5 89v3M253.5 86v3M254.5 84v2M255.5 83v1M255.5 82v1M256.5 80v2M257.5 79v1M258.5 77v2M259.5 76v1M260.5 75v1M261.5 73v2M262.5 72v1M263.5 70v2M264.5 69v1M265.5 67v2M266.5 66v1M267.5 65v1M268.5 63v2M269.5 62v1M270.5 60v2M543.5 80v1M544.5 81v1M545.5 82v1M546.5 83v1M547.5 84v1M548.5 85v1M549.5 86v1M550.5 87v1M551.5 88v2M552.5 90v1M553.5 91v1M554.5 92v1M555.5 93v1M556.5 94v1M557.5 95v1M558.5 96v1M559.5 97v1M560.5 98v2M561.5 100v1M562.5 101v2M563.5 103v1M564.5 104v2M565.5 106v1M566.5 107v2M567.5 109v1M568.5 110v2M569.5 112v1M570.5 113v2M571.5 115v1M572.5 116v2M573.5 118v1M574.5 119v2M575.5 121v2M576.5 123v2M577.5 125v2M578.5 127v2M579.5 129v2M580.5 131v2M581.5 133v2M582.5 135v2M583.5 137v3M584.5 140v2M585.5 142v2M586.5 144v2M587.5 146v2M588.5 148v2M589.5 150v2M590.5 152v2M591.5 154v1M591.5 155v2M592.5 157v2M593.5 159v3M594.5 162v2M595.5 164v3M596.5 167v2M597.5 169v3M598.5 172v2M599.5 174v3M600.5 177v2M601.5 179v3M602.5 182v2M603.5 184v3M604.5 187v2M605.5 189v3M606.5 192v2M607.5 194v1M639.5 198v1M640.5 199v2M641.5 201v2M642.5 203v2M643.5 205v1M644.5 206v2M645.5 208v2M646.5 210v2M647.5 212v1M648.5 213v2M649.5 215v2M650.5 217v2M651.5 219v1M652.5 220v2M653.5 222v2M654.5 224v2M703.5 232v2M704.5 234v2M705.5 236v2M706.5 238v2M707.5 240v2M708.5 242v2M709.5 244v2M710.5 246v2M711.5 248v3M712.5 251v2M713.5 253v2M714.5 255v2M715.5 257v2M716.5 259v2M717.5 261v2M718.5 263v2M719.5 265v1M719.5 266v1M720.5 267v2M721.5 269v2M722.5 271v2M723.5 273v1M724.5 274v2M725.5 276v2M726.5 278v2M727.5 280v1M728.5 281v2M729.5 283v2M730.5 285v2M731.5 287v1M732.5 288v2M733.5 290v2M734.5 292v2M735.5 294v1M736.5 295v2M737.5 297v1M738.5 298v1M739.5 299v2M740.5 301v1M741.5 302v1M742.5 303v2M743.5 305v1M744.5 306v2M745.5 308v1M746.5 309v1M747.5 310v2M748.5 312v1M749.5 313v1M750.5 314v2M783.5 336v1M784.5 337v2M785.5 339v1M786.5 340v2M787.5 342v2M788.5 344v1M789.5 345v2M790.5 347v1M791.5 348v2M792.5 350v1M793.5 351v2M794.5 353v1M795.5 354v2M796.5 356v2M797.5 358v1M798.5 359v2M879.5 378v1M880.5 377v1M881.5 375v2M882.5 374v1M883.5 373v1M884.5 371v2M885.5 370v1M886.5 369v1M887.5 367v2M888.5 366v1M889.5 365v1M890.5 363v2M891.5 362v1M892.5 361v1M893.5 359v2M894.5 358v1M959.5 338v3M960.5 341v5M961.5 346v5M962.5 351v5M963.5 356v5M964.5 361v5M965.5 366v5M966.5 371v5M967.5 376v4M968.5 380v5M969.5 385v5M970.5 390v5M971.5 395v5M972.5 400v5M973.5 405v5M974.5 410v5M975.5 415v2M975.5 417v1M976.5 418v2M977.5 420v1M978.5 421v2M979.5 423v2M980.5 425v1M981.5 426v2M982.5 428v1M983.5 429v2M984.5 431v1M985.5 432v2M986.5 434v1M987.5 435v2M988.5 437v2M989.5 439v1M990.5 440v2M1007.5 445v2M1008.5 447v2M1009.5 449v3M1010.5 452v3M1011.5 455v2M1012.5 457v3M1013.5 460v3M1014.5 463v2M1015.5 465v3M1016.5 468v2M1017.5 470v3M1018.5 473v3M1019.5 476v2M1020.5 478v3M1021.5 481v3M1022.5 484v2M1023.5 486v1M1055.5 489v1M1056.5 490v1M1057.5 491v1M1058.5 492v1M1059.5 493v2M1060.5 495v1M1061.5 496v1M1062.5 497v1M1063.5 498v1M1064.5 499v1M1065.5 500v1M1066.5 501v1M1067.5 502v2M1068.5 504v1M1069.5 505v1M1070.5 506v1M1071.5 507v1M1072.5 508v1M1073.5 509v1M1074.5 510v2M1075.5 512v1M1076.5 513v1M1077.5 514v1M1078.5 515v1M1079.5 516v2M1080.5 518v1M1081.5 519v1M1082.5 520v1M1083.5 521v1M1084.5 522v2M1085.5 524v1M1086.5 525v1M1087.5 526v1M1088.5 525v1M1089.5 523v2M1090.5 522v1M1091.5 521v1M1092.5 520v1M1093.5 518v2M1094.5 517v1M1095.5 516v1M1096.5 515v1M1097.5 513v2M1098.5 512v1M1099.5 511v1M1100.5 510v1M1101.5 508v2M1102.5 507v1M1327.5 512v1M1328.5 511v1M1329.5 509v2M1330.5 508v1M1331.5 507v1M1332.5 505v2M1333.5 504v1M1334.5 503v1M1335.5 501v2M1336.5 500v1M1337.5 499v1M1338.5 497v2M1339.5 496v1M1340.5 495v1M1341.5 493v2M1342.5 492v1M1343.5 490v2M1344.5 487v3M1345.5 484v3M1346.5 481v3M1347.5 478v3M1348.5 475v3M1349.5 472v3M1350.5 469v3M1351.5 467v2M1352.5 464v3M1353.5 461v3M1354.5 458v3M1355.5 455v3M1356.5 452v3M1357.5 449v3M1358.5 446v3M1359.5 445v1M1359.5 443v2M1360.5 441v2M1361.5 439v2M1362.5 437v2M1363.5 435v2M1364.5 433v2M1365.5 431v2M1366.5 429v2M1367.5 427v2M1368.5 425v2M1369.5 423v2M1370.5 421v2M1371.5 419v2M1372.5 417v2M1373.5 415v2M1374.5 413v2M1375.5 412v1M1375.5 410v2M1376.5 407v3M1377.5 404v3M1378.5 401v3M1379.5 397v4M1380.5 394v3M1381.5 391v3M1382.5 388v3M1383.5 385v3M1384.5 382v3M1385.5 379v3M1386.5 376v3M1387.5 372v4M1388.5 369v3M1389.5 366v3M1390.5 363v3M1391.5 362v1M1391.5 360v2M1392.5 356v4M1393.5 353v3M1394.5 350v3M1395.5 346v4M1396.5 343v3M1397.5 340v3M1398.5 336v4M1399.5 333v3M1400.5 329v4M1401.5 326v3M1402.5 323v3M1403.5 319v4M1404.5 316v3M1405.5 313v3M1406.5 309v4M1407.5 308v1M1407.5 306v2M1408.5 302v4M1409.5 299v3M1410.5 295v4M1411.5 291v4M1412.5 288v3M1413.5 284v4M1414.5 281v3M1415.5 277v4M1416.5 274v3M1417.5 270v4M1418.5 267v3M1419.5 263v4M1420.5 259v4M1421.5 256v3M1422.5 252v4M1423.5 251v1M1423.5 250v1M1424.5 248v2M1425.5 246v2M1426.5 244v2M1427.5 242v2M1428.5 240v2M1429.5 238v2M1430.5 236v2M1431.5 234v2M1432.5 232v2M1433.5 230v2M1434.5 228v2M1435.5 226v2M1436.5 224v2M1437.5 222v2M1438.5 220v2M1439.5 218v2M1440.5 215v3M1441.5 212v3M1442.5 209v3M1443.5 206v3M1444.5 203v3M1445.5 200v3M1446.5 197v3M1447.5 194v3M1448.5 191v3M1449.5 188v3M1450.5 185v3M1451.5 182v3M1452.5 179v3M1453.5 176v3M1454.5 173v3M1455.5 172v1M1519.5 189v1M1520.5 187v2M1521.5 186v1M1522.5 184v2M1523.5 183v1M1524.5 182v1M1525.5 180v2M1526.5 179v1M1527.5 177v2M1528.5 176v1M1529.5 174v2M1530.5 173v1M1531.5 172v1M1532.5 170v2M1533.5 169v1M1534.5 167v2M1727.5 135v1M1728.5 136v2M1729.5 138v1M1730.5 139v2M1731.5 141v1M1732.5 142v1M1733.5 143v2M1734.5 145v1M1735.5 146v2M1736.5 148v1M1737.5 149v2M1738.5 151v1M1739.5 152v1M1740.5 153v2M1741.5 155v1M1742.5 156v2M1759.5 154v1M1760.5 155v2M1761.5 157v1M1762.5 158v2M1763.5 160v2M1764.5 162v1M1765.5 163v2M1766.5 165v1M1767.5 166v2M1768.5 168v1M1769.5 169v2M1770.5 171v1M1771.5 172v2M1772.5 174v2M1773.5 176v1M1774.5 177v2M1775.5 179v1M1776.5 180v1M1777.5 181v1M1778.5 182v2M1779.5 184v1M1780.5 185v1M1781.5 186v1M1782.5 187v1M1783.5 188v2M1784.5 190v1M1785.5 191v1M1786.5 192v1M1787.5 193v1M1788.5 194v2M1789.5 196v1M1790.5 197v1M1791.5 198v2M1792.5 200v4M1793.5 204v3M1794.5 207v3M1795.5 210v4M1796.5 214v3M1797.5 217v3M1798.5 220v4M1799.5 224v3M1800.5 227v4M1801.5 231v3M1802.5 234v3M1803.5 237v4M1804.5 241v3M1805.5 244v3M1806.5 247v4M1807.5 251v1M1807.5 252v2M1808.5 254v2M1809.5 256v3M1810.5 259v2M1811.5 261v2M1812.5 263v3M1813.5 266v2M1814.5 268v3M1815.5 271v2M1816.5 273v3M1817.5 276v2M1818.5 278v3M1819.5 281v2M1820.5 283v2M1821.5 285v3M1822.5 288v2M1823.5 290v1M1823.5 291v2M1824.5 293v2M1825.5 295v2M1826.5 297v2M1827.5 299v2M1828.5 301v2M1829.5 303v2M1830.5 305v2M1831.5 307v2M1832.5 309v2M1833.5 311v2M1834.5 313v2M1835.5 315v2M1836.5 317v2M1837.5 319v2M1838.5 321v2M1839.5 323v1M1839.5 324v1M1840.5 325v2M1841.5 327v2M1842.5 329v2M1843.5 331v1M1844.5 332v2M1845.5 334v2M1846.5 336v2M1847.5 338v1M1848.5 339v2M1849.5 341v2M1850.5 343v2M1851.5 345v1M1852.5 346v2M1853.5 348v2M1854.5 350v2M1887.5 374v1M1888.5 373v1M1889.5 372v1M1890.5 370v2M1891.5 369v1M1892.5 368v1M1893.5 367v1M1894.5 366v1M1895.5 364v2M1896.5 363v1M1897.5 362v1M1898.5 361v1M1899.5 360v1M1900.5 358v2M1901.5 357v1M1902.5 356v1M1903.5 355v1M1904.5 354v1M1905.5 353v1M1906.5 352v1M1907.5 350v2M1908.5 349v1M1909.5 348v1M1910.5 347v1M1911.5 346v1M1912.5 345v1M1913.5 344v1M1914.5 343v1M1915.5 341v2M1916.5 340v1M1917.5 339v1M1918.5 338v1M2079.5 354v1M2080.5 355v1M2081.5 356v2M2082.5 358v1M2083.5 359v1M2084.5 360v2M2085.5 362v1M2086.5 363v1M2087.5 364v2M2088.5 366v1M2089.5 367v1M2090.5 368v2M2091.5 370v1M2092.5 371v1M2093.5 372v2M2094.5 374v1M2095.5 375v1M2096.5 376v2M2097.5 378v2M2098.5 380v2M2099.5 382v2M2100.5 384v2M2101.5 386v2M2102.5 388v2M2103.5 390v2M2104.5 392v2M2105.5 394v2M2106.5 396v2M2107.5 398v2M2108.5 400v2M2109.5 402v2M2110.5 404v2M2111.5 406v1M2112.5 407v2M2113.5 409v2M2114.5 411v1M2115.5 412v2M2116.5 414v1M2117.5 415v2M2118.5 417v2M2119.5 419v1M2120.5 420v2M2121.5 422v2M2122.5 424v1M2123.5 425v2M2124.5 427v1M2125.5 428v2M2126.5 430v2M2127.5 432v1M2128.5 433v2M2129.5 435v1M2130.5 436v1M2131.5 437v2M2132.5 439v1M2133.5 440v1M2134.5 441v2M2135.5 443v1M2136.5 444v2M2137.5 446v1M2138.5 447v1M2139.5 448v2M2140.5 450v1M2141.5 451v1M2142.5 452v2" fill="none" stroke="#ff0000" stroke-width="1"/>
<path d="M-1 164.5h2M1 163.5h3M4 162.5h2M6 161.5h3M9 160.5h3M12 159.5h2M14 158.5h1M15 158.5h3M18 157.5h4M22 156.5h4M26 155.5h4M30 154.5h1M31 154.5h2M33 153.5h3M36 152.5h4M40 151.5h3M43 150.5h3M46 149.5h1M47 149.5h3M50 148.5h4M54 147.5h4M58 146.5h4M62 145.5h1M63 145.5h8M71 146.5h8M79 146.5h3M82 147.5h5M87 148.5h6M93 149.5h2M95 149.5h2M97 148.5h3M100 147.5h4M104 146.5h3M107 145.5h3M110 144.5h1M111 144.5h4M115 145.5h8M123 146.5h4M127 146.5h2M129 147.5h4M133 148.5h4M137 149.5h4M141 150.5h2M143 150.5h2M145 151.5h4M149 152.5h4M153 153.5h4M157 154.5h2M159 154.5h16M191 172.5h16M207 172.5h1M208 171.5h2M210 170.5h1M211 169.5h1M212 168.5h2M214 167.5h1M215 166.5h1M216 165.5h2M218 164.5h1M219 163.5h1M220 162.5h2M222 161.5h1M223 160.5h16M271 102.5h3M274 101.5h6M280 100.5h5M285 99.5h2M287 99.5h5M292 98.5h8M300 97.5h3M303 97.5h1M304 96.5h2M306 95.5h2M308 94.5h1M309 93.5h2M311 92.5h1M312 91.5h2M314 90.5h2M316 89.5h1M317 88.5h2M319 87.5h2M321 86.5h2M323 85.5h2M325 84.5h2M327 83.5h2M329 82.5h2M331 81.5h2M333 80.5h2M335 79.5h3M338 78.5h6M344 77.5h5M349 76.5h2M351 76.5h2M353 77.5h2M355 78.5h3M358 79.5h3M361 80.5h2M363 81.5h3M366 82.5h1M367 82.5h2M369 83.5h2M371 84.5h2M373 85.5h2M375 86.5h3M378 87.5h2M380 88.5h2M382 89.5h1M383 89.5h4M387 90.5h8M395 91.5h4M399 91.5h1M400 92.5h2M402 93.5h2M404 94.5h2M406 95.5h2M408 96.5h2M410 97.5h2M412 98.5h2M414 99.5h1M415 99.5h8M423 100.5h8M431 100.5h3M434 99.5h4M438 98.5h4M442 97.5h4M446 96.5h1M447 96.5h2M449 95.5h2M451 94.5h2M453 93.5h3M456 92.5h2M458 91.5h2M460 90.5h2M462 89.5h1M463 89.5h5M468 88.5h8M476 87.5h3M479 87.5h16M511 104.5h3M514 105.5h5M519 106.5h6M525 107.5h2M527 107.5h3M530 108.5h5M535 109.5h6M541 110.5h2M607 230.5h1M608 231.5h1M609 232.5h2M611 233.5h1M612 234.5h1M613 235.5h2M615 236.5h1M616 237.5h1M617 238.5h2M619 239.5h1M620 240.5h1M621 241.5h2M623 242.5h5M628 241.5h8M636 240.5h3M655 276.5h1M656 277.5h1M657 278.5h1M658 279.5h1M659 280.5h2M661 281.5h1M662 282.5h1M663 283.5h1M664 284.5h1M665 285.5h1M666 286.5h1M667 287.5h2M669 288.5h1M670 289.5h1M671 290.5h3M674 289.5h6M680 288.5h5M685 287.5h2M687 287.5h3M690 288.5h5M695 289.5h6M701 290.5h2M751 381.5h1M752 382.5h2M754 383.5h2M756 384.5h2M758 385.5h2M760 386.5h2M762 387.5h2M764 388.5h2M766 389.5h1M767 389.5h1M768 390.5h1M769 391.5h1M770 392.5h1M771 393.5h1M772 394.5h1M773 395.5h1M774 396.5h1M775 397.5h2M777 398.5h1M778 399.5h1M779 400.5h1M780 401.5h1M781 402.5h1M782 403.5h1M799 429.5h1M800 430.5h2M802 431.5h1M803 432.5h2M805 433.5h1M806 434.5h1M807 435.5h2M809 436.5h1M810 437.5h2M812 438.5h1M813 439.5h2M815 440.5h1M816 441.5h2M818 442.5h1M819 443.5h2M821 444.5h2M823 445.5h1M824 446.5h2M826 447.5h1M827 448.5h2M829 449.5h2M831 450.5h3M834 449.5h6M840 448.5h5M845 447.5h2M847 447.5h3M850 446.5h6M856 445.5h5M861 444.5h2M863 444.5h1M864 443.5h2M866 442.5h2M868 441.5h1M869 440.5h2M871 439.5h1M872 438.5h2M874 437.5h2M876 436.5h1M877 435.5h2M911 390.5h1M912 389.5h1M913 388.5h1M914 387.5h1M915 386.5h1M916 385.5h1M917 384.5h1M918 383.5h1M919 382.5h1M920 381.5h1M921 380.5h1M922 379.5h1M923 378.5h1M924 377.5h1M925 376.5h1M926 375.5h1M927 374.5h1M928 373.5h2M930 372.5h2M932 371.5h1M933 370.5h2M935 369.5h1M936 368.5h2M938 367.5h2M940 366.5h1M941 365.5h2M943 364.5h1M944 365.5h2M946 366.5h1M947 367.5h2M949 368.5h1M950 369.5h1M951 370.5h2M953 371.5h1M954 372.5h2M956 373.5h1M957 374.5h2M991 500.5h2M993 501.5h4M997 502.5h4M1001 503.5h4M1005 504.5h2M1023 550.5h1M1024 551.5h1M1025 552.5h1M1026 553.5h1M1027 554.5h2M1029 555.5h1M1030 556.5h1M1031 557.5h1M1032 558.5h1M1033 559.5h1M1034 560.5h1M1035 561.5h2M1037 562.5h1M1038 563.5h1M1039 564.5h2M1041 563.5h3M1044 562.5h2M1046 561.5h3M1049 560.5h3M1052 559.5h2M1054 558.5h1M1087 607.5h1M1088 606.5h1M1089 605.5h1M1090 604.5h1M1091 603.5h1M1092 602.5h1M1093 601.5h1M1094 600.5h1M1095 599.5h1M1096 598.5h1M1097 597.5h1M1098 596.5h1M1099 595.5h1M1100 594.5h1M1101 593.5h1M1102 592.5h1M1103 591.5h2M1105 590.5h2M1107 589.5h2M1109 588.5h2M1111 587.5h2M1113 586.5h2M1115 585.5h2M1117 584.5h2M1119 583.5h2M1121 582.5h2M1123 581.5h2M1125 580.5h3M1128 579.5h2M1130 578.5h2M1132 577.5h2M1134 576.5h1M1135 576.5h2M1137 575.5h2M1139 574.5h2M1141 573.5h3M1144 572.5h2M1146 571.5h2M1148 570.5h2M1150 569.5h1M1151 569.5h16M1167 569.5h4M1171 570.5h8M1179 571.5h4M1183 571.5h8M1191 572.5h8M1199 572.5h2M1201 571.5h3M1204 570.5h4M1208 569.5h3M1211 568.5h3M1214 567.5h1M1215 567.5h1M1216 568.5h2M1218 569.5h1M1219 570.5h2M1221 571.5h2M1223 572.5h1M1224 573.5h2M1226 574.5h1M1227 575.5h2M1229 576.5h2M1231 577.5h9M1240 576.5h7M1247 576.5h8M1255 577.5h8M1263 577.5h2M1265 578.5h4M1269 579.5h4M1273 580.5h4M1277 581.5h2M1279 581.5h5M1284 580.5h8M1292 579.5h3M1295 579.5h2M1297 578.5h2M1299 577.5h2M1301 576.5h2M1303 575.5h2M1305 574.5h2M1307 573.5h2M1309 572.5h2M1455 225.5h16M1471 225.5h1M1472 226.5h2M1474 227.5h2M1476 228.5h2M1478 229.5h2M1480 230.5h2M1482 231.5h2M1484 232.5h2M1486 233.5h1M1487 233.5h2M1489 234.5h4M1493 235.5h4M1497 236.5h4M1501 237.5h2M1503 237.5h1M1504 238.5h2M1506 239.5h2M1508 240.5h2M1510 241.5h1M1511 242.5h2M1513 243.5h2M1515 244.5h2M1517 245.5h2M1535 228.5h1M1536 227.5h1M1537 226.5h1M1538 225.5h1M1539 224.5h1M1540 223.5h1M1541 222.5h1M1542 221.5h1M1543 220.5h1M1544 219.5h1M1545 218.5h1M1546 217.5h1M1547 216.5h1M1548 215.5h1M1549 214.5h1M1550 213.5h1M1551 212.5h16M1567 212.5h5M1572 211.5h8M1580 210.5h3M1583 210.5h3M1586 209.5h6M1592 208.5h5M1597 207.5h2M1599 207.5h16M1615 207.5h3M1618 206.5h4M1622 205.5h4M1626 204.5h4M1630 203.5h1M1631 203.5h2M1633 202.5h3M1636 201.5h4M1640 200.5h3M1643 199.5h3M1646 198.5h1M1647 198.5h1M1648 197.5h2M1650 196.5h2M1652 195.5h2M1654 194.5h2M1656 193.5h1M1657 192.5h2M1659 191.5h2M1661 190.5h2M1663 189.5h1M1664 188.5h2M1666 187.5h2M1668 186.5h1M1669 185.5h2M1671 184.5h1M1672 183.5h2M1674 182.5h2M1676 181.5h1M1677 180.5h2M1679 179.5h1M1680 178.5h2M1682 177.5h1M1683 176.5h1M1684 175.5h2M1686 174.5h1M1687 173.5h1M1688 172.5h2M1690 171.5h1M1691 170.5h1M1692 169.5h2M1694 168.5h1M1695 167.5h1M1696 166.5h1M1697 165.5h2M1699 164.5h1M1700 163.5h1M1701 162.5h1M1702 161.5h2M1704 160.5h1M1705 159.5h1M1706 158.5h1M1707 157.5h1M1708 156.5h2M1710 155.5h1M1711 154.5h1M1712 155.5h1M1713 156.5h1M1714 157.5h1M1715 158.5h1M1716 159.5h1M1717 160.5h1M1718 161.5h1M1719 162.5h1M1720 163.5h1M1721 164.5h1M1722 165.5h1M1723 166.5h1M1724 167.5h1M1725 168.5h1M1726 169.5h1M1743 194.5h9M1752 193.5h7M1871 424.5h1M1872 425.5h2M1874 426.5h2M1876 427.5h2M1878 428.5h2M1880 429.5h2M1882 430.5h2M1884 431.5h2M1886 432.5h1M1887 432.5h1M1888 431.5h1M1889 430.5h1M1890 429.5h1M1891 428.5h1M1892 427.5h1M1893 426.5h1M1894 425.5h2M1896 424.5h1M1897 423.5h1M1898 422.5h1M1899 421.5h1M1900 420.5h1M1901 419.5h1M1902 418.5h1M1919 397.5h1M1920 396.5h2M1922 395.5h1M1923 394.5h2M1925 393.5h1M1926 392.5h2M1928 391.5h1M1929 390.5h1M1930 389.5h2M1932 388.5h1M1933 387.5h2M1935 386.5h3M1938 385.5h6M1944 384.5h5M1949 383.5h2M1951 383.5h8M1959 384.5h8M1967 384.5h16M1983 384.5h1M1984 385.5h2M1986 386.5h2M1988 387.5h2M1990 388.5h1M1991 389.5h2M1993 390.5h2M1995 391.5h2M1997 392.5h2M1999 393.5h16M2015 393.5h1M2016 392.5h2M2018 391.5h1M2019 390.5h2M2021 389.5h1M2022 388.5h2M2024 387.5h1M2025 386.5h1M2026 385.5h2M2028 384.5h1M2029 383.5h2M2031 382.5h2M2033 383.5h2M2035 384.5h2M2037 385.5h2M2039 386.5h3M2042 387.5h2M2044 388.5h2M2046 389.5h1M2047 389.5h3M2050 390.5h5M2055 391.5h6M2061 392.5h2M2063 392.5h4M2067 393.5h8M2075 394.5h4M175.5 154v1M176.5 155v1M177.5 156v1M178.5 157v1M179.5 158v2M180.5 160v1M181.5 161v1M182.5 162v1M183.5 163v1M184.5 164v1M185.5 165v1M186.5 166v1M187.5 167v2M188.5 169v1M189.5 170v1M190.5 171v1M239.5 159v2M240.5 157v2M241.5 155v2M242.5 153v2M243.5 151v2M244.5 149v2M245.5 147v2M246.5 145v2M247.5 142v3M248.5 140v2M249.5 138v2M250.5 136v2M251.5 134v2M252.5 132v2M253.5 130v2M254.5 128v2M255.5 127v1M255.5 126v1M256.5 124v2M257.5 123v1M258.5 121v2M259.5 120v1M260.5 118v2M261.5 117v1M262.5 115v2M263.5 114v1M264.5 112v2M265.5 111v1M266.5 109v2M267.5 108v1M268.5 106v2M269.5 105v1M270.5 103v2M495.5 87v1M496.5 88v1M497.5 89v1M498.5 90v1M499.5 91v1M500.5 92v1M501.5 93v1M502.5 94v1M503.5 95v2M504.5 97v1M505.5 98v1M506.5 99v1M507.5 100v1M508.5 101v1M509.5 102v1M510.5 103v1M543.5 110v1M544.5 111v1M545.5 112v1M546.5 113v1M547.5 114v1M548.5 115v1M549.5 116v1M550.5 117v1M551.5 118v2M552.5 120v1M553.5 121v1M554.5 122v1M555.5 123v1M556.5 124v1M557.5 125v1M558.5 126v1M559.5 127v1M560.5 128v2M561.5 130v1M562.5 131v2M563.5 133v1M564.5 134v1M565.5 135v2M566.5 137v1M567.5 138v2M568.5 140v1M569.5 141v2M570.5 143v1M571.5 144v1M572.5 145v2M573.5 147v1M574.5 148v2M575.5 150v2M576.5 152v2M577.5 154v2M578.5 156v3M579.5 159v2M580.5 161v2M581.5 163v3M582.5 166v2M583.5 168v2M584.5 170v2M585.5 172v3M586.5 175v2M587.5 177v2M588.5 179v3M589.5 182v2M590.5 184v2M591.5 186v1M591.5 187v2M592.5 189v3M593.5 192v2M594.5 194v3M595.5 197v3M596.5 200v2M597.5 202v3M598.5 205v3M599.5 208v2M600.5 210v3M601.5 213v3M602.5 216v2M603.5 218v3M604.5 221v3M605.5 224v2M606.5 226v3M607.5 229v1M639.5 240v2M640.5 242v2M641.5 244v2M642.5 246v2M643.5 248v3M644.5 251v2M645.5 253v2M646.5 255v2M647.5 257v3M648.5 260v2M649.5 262v2M650.5 264v2M651.5 266v3M652.5 269v2M653.5 271v2M654.5 273v2M655.5 275v1M703.5 290v2M704.5 292v2M705.5 294v3M706.5 297v2M707.5 299v3M708.5 302v2M709.5 304v3M710.5 307v2M711.5 309v3M712.5 312v2M713.5 314v3M714.5 317v2M715.5 319v3M716.5 322v2M717.5 324v3M718.5 327v2M719.5 329v1M719.5 330v1M720.5 331v2M721.5 333v2M722.5 335v2M723.5 337v2M724.5 339v2M725.5 341v2M726.5 343v2M727.5 345v1M728.5 346v2M729.5 348v2M730.5 350v2M731.5 352v2M732.5 354v2M733.5 356v2M734.5 358v2M735.5 360v1M736.5 361v1M737.5 362v2M738.5 364v1M739.5 365v1M740.5 366v2M741.5 368v1M742.5 369v1M743.5 370v2M744.5 372v1M745.5 373v1M746.5 374v2M747.5 376v1M748.5 377v1M749.5 378v2M750.5 380v1M783.5 404v1M784.5 405v2M785.5 407v1M786.5 408v2M787.5 410v2M788.5 412v1M789.5 413v2M790.5 415v1M791.5 416v2M792.5 418v1M793.5 419v2M794.5 421v1M795.5 422v2M796.5 424v2M797.5 426v1M798.5 427v2M879.5 434v1M880.5 432v2M881.5 430v2M882.5 429v1M883.5 427v2M884.5 425v2M885.5 424v1M886.5 422v2M887.5 420v2M888.5 418v2M889.5 417v1M890.5 415v2M891.5 413v2M892.5 412v1M893.5 410v2M894.5 408v2M895.5 407v1M896.5 406v1M897.5 405v1M898.5 404v1M899.5 403v1M900.5 402v1M901.5 401v1M902.5 400v1M903.5 398v2M904.5 397v1M905.5 396v1M906.5 395v1M907.5 394v1M908.5 393v1M909.5 392v1M910.5 391v1M959.5 375v3M960.5 378v6M961.5 384v6M962.5 390v6M963.5 396v6M964.5 402v5M965.5 407v6M966.5 413v6M967.5 419v6M968.5 425v6M969.5 431v6M970.5 437v5M971.5 442v6M972.5 448v6M973.5 454v6M974.5 460v6M975.5 466v2M975.5 468v1M976.5 469v2M977.5 471v2M978.5 473v2M979.5 475v2M980.5 477v2M981.5 479v2M982.5 481v2M983.5 483v2M984.5 485v2M985.5 487v2M986.5 489v2M987.5 491v2M988.5 493v2M989.5 495v2M990.5 497v2M991.5 499v1M1007.5 504v2M1008.5 506v3M1009.5 509v3M1010.5 512v3M1011.5 515v2M1012.5 517v3M1013.5 520v3M1014.5 523v3M1015.5 526v3M1016.5 529v3M1017.5 532v3M1018.5 535v3M1019.5 538v2M1020.5 540v3M1021.5 543v3M1022.5 546v3M1023.5 549v1M1055.5 558v1M1056.5 559v2M1057.5 561v1M1058.5 562v2M1059.5 564v2M1060.5 566v1M1061.5 567v2M1062.5 569v1M1063.5 570v2M1064.5 572v1M1065.5 573v2M1066.5 575v1M1067.5 576v2M1068.5 578v2M1069.5 580v1M1070.5 581v2M1071.5 583v1M1072.5 584v2M1073.5 586v1M1074.5 587v2M1075.5 589v1M1076.5 590v2M1077.5 592v1M1078.5 593v2M1079.5 595v1M1080.5 596v2M1081.5 598v1M1082.5 599v2M1083.5 601v1M1084.5 602v2M1085.5 604v1M1086.5 605v2M1311.5 571v1M1312.5 569v2M1313.5 568v1M1314.5 566v2M1315.5 565v1M1316.5 563v2M1317.5 562v1M1318.5 560v2M1319.5 559v1M1320.5 557v2M1321.5 556v1M1322.5 554v2M1323.5 553v1M1324.5 551v2M1325.5 550v1M1326.5 548v2M1327.5 547v1M1328.5 545v2M1329.5 543v2M1330.5 542v1M1331.5 540v2M1332.5 539v1M1333.5 537v2M1334.5 535v2M1335.5 534v1M1336.5 532v2M1337.5 530v2M1338.5 529v1M1339.5 527v2M1340.5 526v1M1341.5 524v2M1342.5 522v2M1343.5 520v2M1344.5 518v2M1345.5 516v2M1346.5 514v2M1347.5 512v2M1348.5 510v2M1349.5 508v2M1350.5 506v2M1351.5 503v3M1352.5 501v2M1353.5 499v2M1354.5 497v2M1355.5 495v2M1356.5 493v2M1357.5 491v2M1358.5 489v2M1359.5 488v1M1359.5 486v2M1360.5 484v2M1361.5 482v2M1362.5 480v2M1363.5 478v2M1364.5 476v2M1365.5 474v2M1366.5 472v2M1367.5 470v2M1368.5 468v2M1369.5 466v2M1370.5 464v2M1371.5 462v2M1372.5 460v2M1373.5 458v2M1374.5 456v2M1375.5 455v1M1375.5 453v2M1376.5 450v3M1377.5 447v3M1378.5 444v3M1379.5 442v2M1380.5 439v3M1381.5 436v3M1382.5 433v3M1383.5 430v3M1384.5 427v3M1385.5 424v3M1386.5 421v3M1387.5 419v2M1388.5 416v3M1389.5 413v3M1390.5 410v3M1391.5 409v1M1391.5 407v2M1392.5 404v3M1393.5 401v3M1394.5 398v3M1395.5 394v4M1396.5 391v3M1397.5 388v3M1398.5 385v3M1399.5 382v3M1400.5 379v3M1401.5 376v3M1402.5 373v3M1403.5 369v4M1404.5 366v3M1405.5 363v3M1406.5 360v3M1407.5 359v1M1407.5 357v2M1408.5 354v3M1409.5 351v3M1410.5 347v4M1411.5 344v3M1412.5 341v3M1413.5 338v3M1414.5 335v3M1415.5 331v4M1416.5 328v3M1417.5 325v3M1418.5 322v3M1419.5 319v3M1420.5 315v4M1421.5 312v3M1422.5 309v3M1423.5 308v1M1423.5 306v2M1424.5 304v2M1425.5 302v2M1426.5 299v3M1427.5 297v2M1428.5 295v2M1429.5 292v3M1430.5 290v2M1431.5 288v2M1432.5 286v2M1433.5 283v3M1434.5 281v2M1435.5 279v2M1436.5 276v3M1437.5 274v2M1438.5 272v2M1439.5 271v1M1439.5 269v2M1440.5 266v3M1441.5 263v3M1442.5 261v2M1443.5 258v3M1444.5 255v3M1445.5 252v3M1446.5 249v3M1447.5 247v2M1448.5 244v3M1449.5 241v3M1450.5 238v3M1451.5 235v3M1452.5 233v2M1453.5 230v3M1454.5 227v3M1455.5 226v1M1519.5 246v1M1520.5 245v1M1521.5 244v1M1522.5 243v1M1523.5 241v2M1524.5 240v1M1525.5 239v1M1526.5 238v1M1527.5 237v1M1528.5 236v1M1529.5 235v1M1530.5 234v1M1531.5 232v2M1532.5 231v1M1533.5 230v1M1534.5 229v1M1727.5 170v1M1728.5 171v2M1729.5 173v1M1730.5 174v2M1731.5 176v1M1732.5 177v2M1733.5 179v1M1734.5 180v2M1735.5 182v1M1736.5 183v2M1737.5 185v1M1738.5 186v2M1739.5 188v1M1740.5 189v2M1741.5 191v1M1742.5 192v2M1759.5 193v1M1760.5 194v2M1761.5 196v1M1762.5 197v2M1763.5 199v1M1764.5 200v2M1765.5 202v1M1766.5 203v2M1767.5 205v1M1768.5 206v2M1769.5 208v1M1770.5 209v2M1771.5 211v1M1772.5 212v2M1773.5 214v1M1774.5 215v2M1775.5 217v1M1776.5 218v1M1777.5 219v1M1778.5 220v1M1779.5 221v2M1780.5 223v1M1781.5 224v1M1782.5 225v1M1783.5 226v1M1784.5 227v1M1785.5 228v1M1786.5 229v1M1787.5 230v2M1788.5 232v1M1789.5 233v1M1790.5 234v1M1791.5 235v2M1792.5 237v4M1793.5 241v4M1794.5 245v4M1795.5 249v4M1796.5 253v4M1797.5 257v4M1798.5 261v4M1799.5 265v4M1800.5 269v4M1801.5 273v4M1802.5 277v4M1803.5 281v4M1804.5 285v4M1805.5 289v4M1806.5 293v4M1807.5 297v1M1807.5 298v2M1808.5 300v3M1809.5 303v2M1810.5 305v3M1811.5 308v3M1812.5 311v3M1813.5 314v2M1814.5 316v3M1815.5 319v3M1816.5 322v3M1817.5 325v2M1818.5 327v3M1819.5 330v3M1820.5 333v3M1821.5 336v2M1822.5 338v3M1823.5 341v1M1823.5 342v2M1824.5 344v2M1825.5 346v2M1826.5 348v3M1827.5 351v2M1828.5 353v3M1829.5 356v2M1830.5 358v2M1831.5 360v3M1832.5 363v2M1833.5 365v2M1834.5 367v3M1835.5 370v2M1836.5 372v3M1837.5 375v2M1838.5 377v2M1839.5 379v1M1839.5 380v1M1840.5 381v2M1841.5 383v2M1842.5 385v1M1843.5 386v2M1844.5 388v2M1845.5 390v1M1846.5 391v2M1847.5 393v2M1848.5 395v2M1849.5 397v1M1850.5 398v2M1851.5 400v2M1852.5 402v1M1853.5 403v2M1854.5 405v2M1855.5 407v1M1856.5 408v1M1857.5 409v1M1858.5 410v1M1859.5 411v1M1860.5 412v1M1861.5 413v1M1862.5 414v1M1863.5 415v2M1864.5 417v1M1865.5 418v1M1866.5 419v1M1867.5 420v1M1868.5 421v1M1869.5 422v1M1870.5 423v1M1903.5 417v1M1904.5 416v1M1905.5 414v2M1906.5 413v1M1907.5 412v1M1908.5 411v1M1909.5 409v2M1910.5 408v1M1911.5 407v1M1912.5 406v1M1913.5 404v2M1914.5 403v1M1915.5 402v1M1916.5 401v1M1917.5 399v2M1918.5 398v1M2079.5 394v1M2080.5 395v2M2081.5 397v1M2082.5 398v1M2083.5 399v2M2084.5 401v1M2085.5 402v1M2086.5 403v2M2087.5 405v1M2088.5 406v2M2089.5 408v1M2090.5 409v1M2091.5 410v2M2092.5 412v1M2093.5 413v1M2094.5 414v2M2095.5 416v2M2096.5 418v2M2097.5 420v2M2098.5 422v2M2099.5 424v2M2100.5 426v2M2101.5 428v2M2102.5 430v2M2103.5 432v3M2104.5 435v2M2105.5 437v2M2106.5 439v2M2107.5 441v2M2108.5 443v2M2109.5 445v2M2110.5 447v2M2111.5 449v1M2111.5 450v1M2112.5 451v2M2113.5 453v1M2114.5 454v2M2115.5 456v2M2116.5 458v1M2117.5 459v2M2118.5 461v1M2119.5 462v2M2120.5 464v1M2121.5 465v2M2122.5 467v1M2123.5 468v2M2124.5 470v2M2125.5 472v1M2126.5 473v2M2127.5 475v1M2128.5 476v2M2129.5 478v1M2130.5 479v2M2131.5 481v1M2132.5 482v1M2133.5 483v2M2134.5 485v1M2135.5 486v2M2136.5 488v1M2137.5 489v2M2138.5 491v1M2139.5 492v1M2140.5 493v2M2141.5 495v1M2142.5 496v2" fill="none" stroke="#ff0000" stroke-width="1"/>
<path d="M-1 236.5h2M1 235.5h3M4 234.5h2M6 233.5h3M9 232.5h3M12 231.5h2M14 230.5h1M15 230.5h2M17 229.5h3M20 228.5h2M22 227.5h3M25 226.5h3M28 225.5h2M30 224.5h1M31 224.5h2M33 223.5h2M35 222.5h2M37 221.5h3M40 220.5h2M42 219.5h2M44 218.5h2M46 217.5h1M47 217.5h1M48 216.5h2M50 215.5h2M52 214.5h1M53 213.5h2M55 212.5h1M56 211.5h2M58 210.5h2M60 209.5h1M61 208.5h2M63 207.5h9M72 206.5h7M79 206.5h9M88 205.5h7M95 205.5h3M98 204.5h4M102 203.5h4M106 202.5h4M110 201.5h1M111 201.5h5M116 200.5h8M124 199.5h3M127 199.5h3M130 198.5h4M134 197.5h4M138 196.5h4M142 195.5h1M143 195.5h9M152 194.5h7M159 194.5h1M160 193.5h2M162 192.5h2M164 191.5h2M166 190.5h2M168 189.5h1M169 188.5h2M171 187.5h2M173 186.5h2M191 206.5h8M199 207.5h8M207 207.5h1M208 206.5h2M210 205.5h1M211 204.5h1M212 203.5h2M214 202.5h1M215 201.5h1M216 200.5h2M218 199.5h1M219 198.5h1M220 197.5h2M222 196.5h1M223 195.5h4M227 196.5h8M235 197.5h4M271 146.5h5M276 145.5h8M284 144.5h3M287 144.5h3M290 145.5h5M295 146.5h6M301 147.5h2M303 147.5h2M305 146.5h2M307 145.5h2M309 144.5h2M311 143.5h2M313 142.5h2M315 141.5h2M317 140.5h2M319 139.5h2M321 138.5h2M323 137.5h2M325 136.5h2M327 135.5h2M329 134.5h2M331 133.5h2M333 132.5h2M335 131.5h3M338 130.5h6M344 129.5h5M349 128.5h2M351 128.5h2M353 129.5h2M355 130.5h3M358 131.5h3M361 132.5h2M363 133.5h3M366 134.5h1M367 134.5h2M369 135.5h2M371 136.5h3M374 137.5h3M377 138.5h2M379 139.5h3M382 140.5h1M383 140.5h8M391 141.5h8M399 141.5h1M400 142.5h2M402 143.5h2M404 144.5h2M406 145.5h1M407 146.5h2M409 147.5h2M411 148.5h2M413 149.5h2M415 150.5h9M424 149.5h7M431 149.5h2M433 148.5h2M435 147.5h2M437 146.5h3M440 145.5h2M442 144.5h2M444 143.5h2M446 142.5h1M447 142.5h2M449 141.5h2M451 140.5h2M453 139.5h2M455 138.5h2M457 137.5h2M459 136.5h2M461 135.5h2M463 134.5h2M465 133.5h2M467 132.5h2M469 131.5h3M472 130.5h2M474 129.5h2M476 128.5h2M478 127.5h1M479 127.5h2M481 126.5h3M484 125.5h2M486 124.5h3M489 123.5h3M492 122.5h2M494 121.5h1M495 121.5h1M496 122.5h1M497 123.5h1M498 124.5h1M499 125.5h1M500 126.5h1M501 127.5h1M502 128.5h1M503 129.5h2M505 130.5h1M506 131.5h1M507 132.5h1M508 133.5h1M509 134.5h1M510 135.5h1M511 136.5h4M515 137.5h8M523 138.5h4M527 138.5h8M535 139.5h8M623 282.5h4M627 283.5h8M635 284.5h4M655 326.5h1M656 327.5h1M657 328.5h1M658 329.5h1M659 330.5h1M660 331.5h1M661 332.5h1M662 333.5h1M663 334.5h1M664 335.5h1M665 336.5h1M666 337.5h1M667 338.5h1M668 339.5h1M669 340.5h1M670 341.5h1M671 342.5h4M675 343.5h8M683 344.5h4M687 344.5h2M689 345.5h2M691 346.5h3M694 347.5h3M697 348.5h2M699 349.5h3M702 350.5h1M751 449.5h2M753 450.5h2M755 451.5h3M758 452.5h3M761 453.5h2M763 454.5h3M766 455.5h1M799 497.5h1M800 498.5h2M802 499.5h2M804 500.5h2M806 501.5h1M807 502.5h2M809 503.5h2M811 504.5h2M813 505.5h2M815 506.5h1M816 507.5h2M818 508.5h2M820 509.5h2M822 510.5h2M824 511.5h2M826 512.5h2M828 513.5h2M830 514.5h1M831 514.5h2M833 513.5h3M836 512.5h4M840 511.5h3M843 510.5h3M846 509.5h1M847 509.5h2M849 508.5h2M851 507.5h2M853 506.5h2M855 505.5h2M857 504.5h2M859 503.5h2M861 502.5h2M863 501.5h1M864 500.5h2M866 499.5h1M867 498.5h2M869 497.5h1M870 496.5h2M872 495.5h1M873 494.5h1M874 493.5h2M876 492.5h1M877 491.5h2M927 417.5h1M928 416.5h1M929 415.5h1M930 414.5h1M931 413.5h1M932 412.5h1M933 411.5h1M934 410.5h2M936 409.5h1M937 408.5h1M938 407.5h1M939 406.5h1M940 405.5h1M941 404.5h1M942 403.5h1M943 402.5h1M944 403.5h2M946 404.5h1M947 405.5h2M949 406.5h2M951 407.5h1M952 408.5h2M954 409.5h1M955 410.5h2M957 411.5h2M991 556.5h2M993 557.5h3M996 558.5h3M999 559.5h4M1003 560.5h3M1006 561.5h1M1039 631.5h5M1044 630.5h8M1052 629.5h3M1087 689.5h1M1088 688.5h1M1089 687.5h1M1090 686.5h2M1092 685.5h1M1093 684.5h1M1094 683.5h1M1095 682.5h1M1096 681.5h1M1097 680.5h1M1098 679.5h2M1100 678.5h1M1101 677.5h1M1102 676.5h1M1103 675.5h1M1104 674.5h2M1106 673.5h2M1108 672.5h2M1110 671.5h2M1112 670.5h1M1113 669.5h2M1115 668.5h2M1117 667.5h2M1119 666.5h2M1121 665.5h2M1123 664.5h2M1125 663.5h3M1128 662.5h2M1130 661.5h2M1132 660.5h2M1134 659.5h1M1135 659.5h2M1137 658.5h2M1139 657.5h2M1141 656.5h3M1144 655.5h2M1146 654.5h2M1148 653.5h2M1150 652.5h1M1151 652.5h4M1155 653.5h8M1163 654.5h4M1167 654.5h8M1175 655.5h8M1183 655.5h8M1191 656.5h8M1215 636.5h2M1217 637.5h2M1219 638.5h2M1221 639.5h2M1223 640.5h3M1226 641.5h2M1228 642.5h2M1230 643.5h1M1231 643.5h3M1234 642.5h4M1238 641.5h4M1242 640.5h4M1246 639.5h1M1247 639.5h2M1249 638.5h3M1252 637.5h4M1256 636.5h3M1259 635.5h3M1262 634.5h1M1263 634.5h4M1267 635.5h8M1275 636.5h4M1279 636.5h2M1281 635.5h3M1284 634.5h4M1288 633.5h3M1291 632.5h3M1294 631.5h1M1295 631.5h1M1296 630.5h1M1297 629.5h1M1298 628.5h1M1299 627.5h1M1300 626.5h1M1301 625.5h1M1302 624.5h1M1303 623.5h1M1304 622.5h1M1305 621.5h1M1306 620.5h1M1307 619.5h1M1308 618.5h1M1309 617.5h1M1310 616.5h1M1455 281.5h2M1457 282.5h4M1461 283.5h4M1465 284.5h4M1469 285.5h2M1471 285.5h1M1472 286.5h2M1474 287.5h2M1476 288.5h2M1478 289.5h2M1480 290.5h2M1482 291.5h2M1484 292.5h2M1486 293.5h1M1487 293.5h4M1491 294.5h8M1499 295.5h4M1503 295.5h1M1504 296.5h2M1506 297.5h1M1507 298.5h2M1509 299.5h1M1510 300.5h1M1511 301.5h2M1513 302.5h1M1514 303.5h2M1516 304.5h1M1517 305.5h2M1535 289.5h1M1536 288.5h1M1537 287.5h1M1538 286.5h1M1539 285.5h1M1540 284.5h1M1541 283.5h1M1542 282.5h2M1544 281.5h1M1545 280.5h1M1546 279.5h1M1547 278.5h1M1548 277.5h1M1549 276.5h1M1550 275.5h1M1551 274.5h8M1559 275.5h8M1567 275.5h3M1570 274.5h6M1576 273.5h5M1581 272.5h2M1583 272.5h2M1585 271.5h2M1587 270.5h2M1589 269.5h2M1591 268.5h2M1593 267.5h2M1595 266.5h2M1597 265.5h2M1599 264.5h3M1602 263.5h6M1608 262.5h5M1613 261.5h2M1615 261.5h2M1617 260.5h2M1619 259.5h2M1621 258.5h2M1623 257.5h2M1625 256.5h2M1627 255.5h2M1629 254.5h2M1631 253.5h1M1632 252.5h2M1634 251.5h2M1636 250.5h2M1638 249.5h2M1640 248.5h1M1641 247.5h2M1643 246.5h2M1645 245.5h2M1647 244.5h1M1648 243.5h2M1650 242.5h1M1651 241.5h1M1652 240.5h2M1654 239.5h1M1655 238.5h1M1656 237.5h2M1658 236.5h1M1659 235.5h1M1660 234.5h2M1662 233.5h1M1663 232.5h1M1664 231.5h1M1665 230.5h2M1667 229.5h1M1668 228.5h1M1669 227.5h1M1670 226.5h2M1672 225.5h1M1673 224.5h1M1674 223.5h1M1675 222.5h1M1676 221.5h2M1678 220.5h1M1679 219.5h1M1680 218.5h1M1681 217.5h1M1682 216.5h1M1683 215.5h1M1684 214.5h1M1685 213.5h1M1686 212.5h2M1688 211.5h1M1689 210.5h1M1690 209.5h1M1691 208.5h1M1692 207.5h1M1693 206.5h1M1694 205.5h1M1743 230.5h8M1751 231.5h8M1871 481.5h1M1872 482.5h2M1874 483.5h2M1876 484.5h2M1878 485.5h1M1879 486.5h2M1881 487.5h2M1883 488.5h2M1885 489.5h2M1887 490.5h1M1888 489.5h1M1889 488.5h2M1891 487.5h1M1892 486.5h1M1893 485.5h1M1894 484.5h2M1896 483.5h1M1897 482.5h1M1898 481.5h1M1899 480.5h1M1900 479.5h2M1902 478.5h1M1919 459.5h1M1920 458.5h2M1922 457.5h1M1923 456.5h1M1924 455.5h2M1926 454.5h1M1927 453.5h1M1928 452.5h2M1930 451.5h1M1931 450.5h1M1932 449.5h2M1934 448.5h1M1935 447.5h5M1940 446.5h8M1948 445.5h3M1951 445.5h4M1955 446.5h8M1963 447.5h4M1967 447.5h3M1970 446.5h4M1974 445.5h4M1978 444.5h4M1982 443.5h1M1983 443.5h2M1985 444.5h2M1987 445.5h3M1990 446.5h3M1993 447.5h2M1995 448.5h3M1998 449.5h1M1999 449.5h5M2004 448.5h8M2012 447.5h3M2015 447.5h1M2016 446.5h2M2018 445.5h1M2019 444.5h1M2020 443.5h2M2022 442.5h1M2023 441.5h1M2024 440.5h2M2026 439.5h1M2027 438.5h1M2028 437.5h2M2030 436.5h1M2031 435.5h2M2033 436.5h4M2037 437.5h4M2041 438.5h4M2045 439.5h2M2047 439.5h16M2063 439.5h9M2072 438.5h7M175.5 185v1M176.5 186v1M177.5 187v2M178.5 189v1M179.5 190v1M180.5 191v2M181.5 193v1M182.5 194v1M183.5 195v2M184.5 197v1M185.5 198v1M186.5 199v2M187.5 201v1M188.5 202v1M189.5 203v2M190.5 205v1M239.5 197v1M240.5 195v2M241.5 194v1M242.5 192v2M243.5 190v2M244.5 189v1M245.5 187v2M246.5 186v1M247.5 184v2M248.5 183v1M249.5 181v2M250.5 180v1M251.5 178v2M252.5 176v2M253.5 175v1M254.5 173v2M255.5 172v1M256.5 170v2M257.5 168v2M258.5 167v1M259.5 165v2M260.5 164v1M261.5 162v2M262.5 160v2M263.5 159v1M264.5 157v2M265.5 155v2M266.5 154v1M267.5 152v2M268.5 151v1M269.5 149v2M270.5 147v2M543.5 139v1M544.5 140v1M545.5 141v1M546.5 142v1M547.5 143v1M548.5 144v1M549.5 145v1M550.5 146v1M551.5 147v2M552.5 149v1M553.5 150v1M554.5 151v1M555.5 152v1M556.5 153v1M557.5 154v1M558.5 155v1M559.5 156v1M560.5 157v2M561.5 159v1M562.5 160v2M563.5 162v1M564.5 163v2M565.5 165v1M566.5 166v2M567.5 168v1M568.5 169v2M569.5 171v1M570.5 172v2M571.5 174v1M572.5 175v2M573.5 177v1M574.5 178v2M575.5 180v2M576.5 182v2M577.5 184v3M578.5 187v2M579.5 189v3M580.5 192v2M581.5 194v3M582.5 197v2M583.5 199v3M584.5 202v2M585.5 204v3M586.5 207v2M587.5 209v3M588.5 212v2M589.5 214v3M590.5 217v2M591.5 219v1M591.5 220v2M592.5 222v3M593.5 225v3M594.5 228v2M595.5 230v3M596.5 233v3M597.5 236v3M598.5 239v3M599.5 242v2M600.5 244v3M601.5 247v3M602.5 250v3M603.5 253v3M604.5 256v2M605.5 258v3M606.5 261v3M607.5 264v1M607.5 265v1M608.5 266v1M609.5 267v1M610.5 268v1M611.5 269v1M612.5 270v1M613.5 271v1M614.5 272v1M615.5 273v2M616.5 275v1M617.5 276v1M618.5 277v1M619.5 278v1M620.5 279v1M621.5 280v1M622.5 281v1M639.5 284v2M640.5 286v2M641.5 288v3M642.5 291v3M643.5 294v2M644.5 296v3M645.5 299v3M646.5 302v2M647.5 304v3M648.5 307v2M649.5 309v3M650.5 312v3M651.5 315v2M652.5 317v3M653.5 320v3M654.5 323v2M655.5 325v1M703.5 350v2M704.5 352v3M705.5 355v2M706.5 357v3M707.5 360v3M708.5 363v3M709.5 366v2M710.5 368v3M711.5 371v3M712.5 374v3M713.5 377v2M714.5 379v3M715.5 382v3M716.5 385v3M717.5 388v2M718.5 390v3M719.5 393v1M719.5 394v2M720.5 396v2M721.5 398v2M722.5 400v2M723.5 402v2M724.5 404v2M725.5 406v2M726.5 408v2M727.5 410v2M728.5 412v2M729.5 414v2M730.5 416v2M731.5 418v2M732.5 420v2M733.5 422v2M734.5 424v2M735.5 426v1M735.5 427v1M736.5 428v2M737.5 430v1M738.5 431v1M739.5 432v2M740.5 434v1M741.5 435v1M742.5 436v2M743.5 438v1M744.5 439v2M745.5 441v1M746.5 442v1M747.5 443v2M748.5 445v1M749.5 446v1M750.5 447v2M767.5 455v1M768.5 456v1M769.5 457v1M770.5 458v1M771.5 459v1M772.5 460v1M773.5 461v1M774.5 462v1M775.5 463v2M776.5 465v1M777.5 466v1M778.5 467v1M779.5 468v1M780.5 469v1M781.5 470v1M782.5 471v1M783.5 472v1M784.5 473v2M785.5 475v1M786.5 476v2M787.5 478v2M788.5 480v1M789.5 481v2M790.5 483v1M791.5 484v2M792.5 486v1M793.5 487v2M794.5 489v1M795.5 490v2M796.5 492v2M797.5 494v1M798.5 495v2M879.5 489v2M880.5 487v2M881.5 485v2M882.5 483v2M883.5 481v2M884.5 479v2M885.5 477v2M886.5 475v2M887.5 473v2M888.5 471v2M889.5 469v2M890.5 467v2M891.5 465v2M892.5 463v2M893.5 461v2M894.5 459v2M895.5 458v1M895.5 457v1M896.5 456v1M897.5 454v2M898.5 453v1M899.5 452v1M900.5 450v2M901.5 449v1M902.5 448v1M903.5 446v2M904.5 445v1M905.5 444v1M906.5 442v2M907.5 441v1M908.5 440v1M909.5 438v2M910.5 437v1M911.5 436v1M912.5 435v1M913.5 434v1M914.5 432v2M915.5 431v1M916.5 430v1M917.5 429v1M918.5 428v1M919.5 426v2M920.5 425v1M921.5 424v1M922.5 423v1M923.5 422v1M924.5 420v2M925.5 419v1M926.5 418v1M959.5 412v4M960.5 416v7M961.5 423v6M962.5 429v7M963.5 436v7M964.5 443v6M965.5 449v7M966.5 456v7M967.5 463v6M968.5 469v7M969.5 476v7M970.5 483v6M971.5 489v7M972.5 496v7M973.5 503v6M974.5 509v7M975.5 516v3M975.5 519v2M976.5 521v2M977.5 523v2M978.5 525v3M979.5 528v2M980.5 530v2M981.5 532v3M982.5 535v2M983.5 537v2M984.5 539v2M985.5 541v3M986.5 544v2M987.5 546v2M988.5 548v3M989.5 551v2M990.5 553v2M991.5 555v1M1007.5 561v2M1008.5 563v3M1009.5 566v4M1010.5 570v3M1011.5 573v3M1012.5 576v3M1013.5 579v4M1014.5 583v3M1015.5 586v3M1016.5 589v3M1017.5 592v4M1018.5 596v3M1019.5 599v3M1020.5 602v3M1021.5 605v4M1022.5 609v3M1023.5 612v1M1023.5 613v1M1024.5 614v1M1025.5 615v1M1026.5 616v1M1027.5 617v2M1028.5 619v1M1029.5 620v1M1030.5 621v1M1031.5 622v1M1032.5 623v1M1033.5 624v1M1034.5 625v1M1035.5 626v2M1036.5 628v1M1037.5 629v1M1038.5 630v1M1055.5 629v1M1056.5 630v2M1057.5 632v2M1058.5 634v2M1059.5 636v2M1060.5 638v2M1061.5 640v2M1062.5 642v2M1063.5 644v1M1064.5 645v2M1065.5 647v2M1066.5 649v2M1067.5 651v2M1068.5 653v2M1069.5 655v2M1070.5 657v2M1071.5 659v1M1072.5 660v2M1073.5 662v2M1074.5 664v2M1075.5 666v2M1076.5 668v2M1077.5 670v2M1078.5 672v2M1079.5 674v1M1080.5 675v2M1081.5 677v2M1082.5 679v2M1083.5 681v2M1084.5 683v2M1085.5 685v2M1086.5 687v2M1199.5 656v1M1200.5 655v1M1201.5 653v2M1202.5 652v1M1203.5 651v1M1204.5 650v1M1205.5 648v2M1206.5 647v1M1207.5 646v1M1208.5 645v1M1209.5 643v2M1210.5 642v1M1211.5 641v1M1212.5 640v1M1213.5 638v2M1214.5 637v1M1311.5 615v1M1312.5 613v2M1313.5 611v2M1314.5 610v1M1315.5 608v2M1316.5 607v1M1317.5 605v2M1318.5 603v2M1319.5 602v1M1320.5 600v2M1321.5 598v2M1322.5 597v1M1323.5 595v2M1324.5 594v1M1325.5 592v2M1326.5 590v2M1327.5 588v2M1328.5 586v2M1329.5 584v2M1330.5 582v2M1331.5 580v2M1332.5 577v3M1333.5 575v2M1334.5 573v2M1335.5 571v2M1336.5 569v2M1337.5 567v2M1338.5 564v3M1339.5 562v2M1340.5 560v2M1341.5 558v2M1342.5 556v2M1343.5 555v1M1343.5 554v1M1344.5 552v2M1345.5 551v1M1346.5 549v2M1347.5 548v1M1348.5 546v2M1349.5 545v1M1350.5 543v2M1351.5 542v1M1352.5 540v2M1353.5 539v1M1354.5 537v2M1355.5 536v1M1356.5 534v2M1357.5 533v1M1358.5 531v2M1359.5 529v2M1360.5 527v2M1361.5 525v2M1362.5 523v2M1363.5 521v2M1364.5 518v3M1365.5 516v2M1366.5 514v2M1367.5 512v2M1368.5 510v2M1369.5 508v2M1370.5 505v3M1371.5 503v2M1372.5 501v2M1373.5 499v2M1374.5 497v2M1375.5 496v1M1375.5 494v2M1376.5 491v3M1377.5 489v2M1378.5 486v3M1379.5 483v3M1380.5 480v3M1381.5 478v2M1382.5 475v3M1383.5 472v3M1384.5 469v3M1385.5 467v2M1386.5 464v3M1387.5 461v3M1388.5 458v3M1389.5 456v2M1390.5 453v3M1391.5 452v1M1391.5 450v2M1392.5 447v3M1393.5 445v2M1394.5 442v3M1395.5 439v3M1396.5 436v3M1397.5 434v2M1398.5 431v3M1399.5 428v3M1400.5 425v3M1401.5 423v2M1402.5 420v3M1403.5 417v3M1404.5 414v3M1405.5 412v2M1406.5 409v3M1407.5 408v1M1407.5 406v2M1408.5 404v2M1409.5 401v3M1410.5 398v3M1411.5 396v2M1412.5 393v3M1413.5 390v3M1414.5 388v2M1415.5 385v3M1416.5 383v2M1417.5 380v3M1418.5 377v3M1419.5 375v2M1420.5 372v3M1421.5 369v3M1422.5 367v2M1423.5 366v1M1423.5 364v2M1424.5 362v2M1425.5 359v3M1426.5 356v3M1427.5 354v2M1428.5 351v3M1429.5 348v3M1430.5 346v2M1431.5 343v3M1432.5 341v2M1433.5 338v3M1434.5 335v3M1435.5 333v2M1436.5 330v3M1437.5 327v3M1438.5 325v2M1439.5 324v1M1439.5 322v2M1440.5 320v2M1441.5 317v3M1442.5 314v3M1443.5 312v2M1444.5 309v3M1445.5 306v3M1446.5 304v2M1447.5 301v3M1448.5 299v2M1449.5 296v3M1450.5 293v3M1451.5 291v2M1452.5 288v3M1453.5 285v3M1454.5 283v2M1455.5 282v1M1519.5 306v1M1520.5 305v1M1521.5 304v1M1522.5 303v1M1523.5 302v1M1524.5 301v1M1525.5 300v1M1526.5 299v1M1527.5 297v2M1528.5 296v1M1529.5 295v1M1530.5 294v1M1531.5 293v1M1532.5 292v1M1533.5 291v1M1534.5 290v1M1695.5 204v1M1696.5 203v1M1697.5 202v1M1698.5 201v1M1699.5 200v1M1700.5 199v1M1701.5 198v1M1702.5 197v1M1703.5 195v2M1704.5 194v1M1705.5 193v1M1706.5 192v1M1707.5 191v1M1708.5 190v1M1709.5 189v1M1710.5 188v1M1711.5 187v1M1712.5 188v1M1713.5 189v1M1714.5 190v1M1715.5 191v1M1716.5 192v1M1717.5 193v1M1718.5 194v1M1719.5 195v2M1720.5 197v1M1721.5 198v1M1722.5 199v1M1723.5 200v1M1724.5 201v1M1725.5 202v1M1726.5 203v1M1727.5 204v1M1728.5 205v2M1729.5 207v2M1730.5 209v1M1731.5 210v2M1732.5 212v1M1733.5 213v2M1734.5 215v2M1735.5 217v1M1736.5 218v2M1737.5 220v2M1738.5 222v1M1739.5 223v2M1740.5 225v1M1741.5 226v2M1742.5 228v2M1759.5 231v1M1760.5 232v2M1761.5 234v1M1762.5 235v2M1763.5 237v1M1764.5 238v2M1765.5 240v1M1766.5 241v2M1767.5 243v1M1768.5 244v2M1769.5 246v1M1770.5 247v2M1771.5 249v1M1772.5 250v2M1773.5 252v1M1774.5 253v2M1775.5 255v1M1776.5 256v1M1777.5 257v2M1778.5 259v1M1779.5 260v1M1780.5 261v2M1781.5 263v1M1782.5 264v1M1783.5 265v2M1784.5 267v1M1785.5 268v1M1786.5 269v2M1787.5 271v1M1788.5 272v1M1789.5 273v2M1790.5 275v1M1791.5 276v3M1792.5 279v4M1793.5 283v4M1794.5 287v4M1795.5 291v4M1796.5 295v5M1797.5 300v4M1798.5 304v4M1799.5 308v4M1800.5 312v4M1801.5 316v4M1802.5 320v5M1803.5 325v4M1804.5 329v4M1805.5 333v4M1806.5 337v4M1807.5 341v2M1807.5 343v2M1808.5 345v3M1809.5 348v3M1810.5 351v4M1811.5 355v3M1812.5 358v3M1813.5 361v3M1814.5 364v3M1815.5 367v4M1816.5 371v3M1817.5 374v3M1818.5 377v3M1819.5 380v3M1820.5 383v4M1821.5 387v3M1822.5 390v3M1823.5 393v1M1823.5 394v2M1824.5 396v2M1825.5 398v3M1826.5 401v3M1827.5 404v2M1828.5 406v3M1829.5 409v3M1830.5 412v2M1831.5 414v3M1832.5 417v2M1833.5 419v3M1834.5 422v3M1835.5 425v2M1836.5 427v3M1837.5 430v3M1838.5 433v2M1839.5 435v1M1839.5 436v1M1840.5 437v2M1841.5 439v1M1842.5 440v2M1843.5 442v2M1844.5 444v1M1845.5 445v2M1846.5 447v1M1847.5 448v2M1848.5 450v1M1849.5 451v2M1850.5 453v1M1851.5 454v2M1852.5 456v2M1853.5 458v1M1854.5 459v2M1855.5 461v1M1856.5 462v1M1857.5 463v2M1858.5 465v1M1859.5 466v1M1860.5 467v1M1861.5 468v2M1862.5 470v1M1863.5 471v1M1864.5 472v1M1865.5 473v2M1866.5 475v1M1867.5 476v1M1868.5 477v1M1869.5 478v2M1870.5 480v1M1903.5 477v1M1904.5 476v1M1905.5 475v1M1906.5 474v1M1907.5 472v2M1908.5 471v1M1909.5 470v1M1910.5 469v1M1911.5 468v1M1912.5 467v1M1913.5 466v1M1914.5 465v1M1915.5 463v2M1916.5 462v1M1917.5 461v1M1918.5 460v1M2079.5 438v1M2080.5 439v1M2081.5 440v1M2082.5 441v2M2083.5 443v1M2084.5 444v1M2085.5 445v1M2086.5 446v1M2087.5 447v2M2088.5 449v1M2089.5 450v1M2090.5 451v1M2091.5 452v1M2092.5 453v2M2093.5 455v1M2094.5 456v1M2095.5 457v2M2096.5 459v2M2097.5 461v2M2098.5 463v3M2099.5 466v2M2100.5 468v2M2101.5 470v3M2102.5 473v2M2103.5 475v2M2104.5 477v2M2105.5 479v3M2106.5 482v2M2107.5 484v2M2108.5 486v3M2109.5 489v2M2110.5 491v2M2111.5 493v1M2111.5 494v1M2112.5 495v2M2113.5 497v2M2114.5 499v2M2115.5 501v1M2116.5 502v2M2117.5 504v2M2118.5 506v2M2119.5 508v1M2120.5 509v2M2121.5 511v2M2122.5 513v2M2123.5 515v1M2124.5 516v2M2125.5 518v2M2126.5 520v2M2127.5 522v1M2128.5 523v1M2129.5 524v2M2130.5 526v1M2131.5 527v1M2132.5 528v2M2133.5 530v1M2134.5 531v1M2135.5 532v2M2136.5 534v1M2137.5 535v1M2138.5 536v2M2139.5 538v1M2140.5 539v1M2141.5 540v2M2142.5 542v1" fill="none" stroke="#ff0000" stroke-width="1"/>
<path d="M-1 267.5h2M1 266.5h3M4 265.5h2M6 264.5h3M9 263.5h3M12 262.5h2M14 261.5h1M15 261.5h2M17 260.5h3M20 259.5h2M22 258.5h3M25 257.5h3M28 256.5h2M30 255.5h1M31 255.5h2M33 254.5h2M35 253.5h2M37 252.5h2M39 251.5h2M41 250.5h2M43 249.5h2M45 248.5h2M47 247.5h1M48 246.5h2M50 245.5h1M51 244.5h1M52 243.5h2M54 242.5h1M55 241.5h1M56 240.5h2M58 239.5h1M59 238.5h1M60 237.5h2M62 236.5h1M63 235.5h2M65 234.5h3M68 233.5h4M72 232.5h3M75 231.5h3M78 230.5h1M79 230.5h9M88 229.5h7M95 229.5h2M97 228.5h3M100 227.5h4M104 226.5h3M107 225.5h3M110 224.5h1M111 224.5h9M120 223.5h7M127 223.5h2M129 222.5h2M131 221.5h2M133 220.5h2M135 219.5h2M137 218.5h2M139 217.5h2M141 216.5h2M143 215.5h3M146 214.5h6M152 213.5h5M157 212.5h2M159 212.5h1M160 211.5h1M161 210.5h2M163 209.5h1M164 208.5h1M165 207.5h1M166 206.5h2M168 205.5h1M169 204.5h1M170 203.5h1M171 202.5h1M172 201.5h2M174 200.5h1M191 219.5h3M194 220.5h5M199 221.5h6M205 222.5h2M207 222.5h1M208 221.5h2M210 220.5h1M211 219.5h2M213 218.5h1M214 217.5h2M216 216.5h1M217 215.5h1M218 214.5h2M220 213.5h1M221 212.5h2M223 211.5h4M227 212.5h8M235 213.5h4M271 164.5h16M287 164.5h2M289 165.5h4M293 166.5h4M297 167.5h4M301 168.5h2M303 168.5h2M305 167.5h2M307 166.5h2M309 165.5h3M312 164.5h2M314 163.5h2M316 162.5h2M318 161.5h1M319 161.5h2M321 160.5h2M323 159.5h2M325 158.5h3M328 157.5h2M330 156.5h2M332 155.5h2M334 154.5h1M335 154.5h3M338 153.5h4M342 152.5h4M346 151.5h4M350 150.5h1M351 150.5h2M353 151.5h3M356 152.5h3M359 153.5h4M363 154.5h3M366 155.5h1M367 155.5h2M369 156.5h2M371 157.5h3M374 158.5h3M377 159.5h2M379 160.5h3M382 161.5h1M383 161.5h8M391 162.5h8M399 162.5h1M400 163.5h2M402 164.5h1M403 165.5h2M405 166.5h2M407 167.5h1M408 168.5h2M410 169.5h1M411 170.5h2M413 171.5h2M415 172.5h5M420 171.5h8M428 170.5h3M431 170.5h2M433 169.5h2M435 168.5h2M437 167.5h2M439 166.5h2M441 165.5h2M443 164.5h2M445 163.5h2M447 162.5h1M448 161.5h2M450 160.5h1M451 159.5h2M453 158.5h1M454 157.5h2M456 156.5h1M457 155.5h1M458 154.5h2M460 153.5h1M461 152.5h2M463 151.5h2M465 150.5h2M467 149.5h2M469 148.5h2M471 147.5h2M473 146.5h2M475 145.5h2M477 144.5h2M479 143.5h2M481 142.5h2M483 141.5h2M485 140.5h3M488 139.5h2M490 138.5h2M492 137.5h2M494 136.5h1M495 136.5h1M496 137.5h1M497 138.5h1M498 139.5h1M499 140.5h1M500 141.5h1M501 142.5h1M502 143.5h1M503 144.5h2M505 145.5h1M506 146.5h1M507 147.5h1M508 148.5h1M509 149.5h1M510 150.5h1M511 151.5h8M519 152.5h8M527 152.5h9M536 151.5h7M623 299.5h4M627 300.5h8M635 301.5h4M671 364.5h3M674 365.5h5M679 366.5h6M685 367.5h2M687 367.5h1M688 368.5h2M690 369.5h2M692 370.5h2M694 371.5h2M696 372.5h2M698 373.5h2M700 374.5h2M702 375.5h1M735 455.5h1M736 456.5h1M737 457.5h1M738 458.5h1M739 459.5h1M740 460.5h1M741 461.5h1M742 462.5h1M743 463.5h1M744 464.5h1M745 465.5h1M746 466.5h1M747 467.5h1M748 468.5h1M749 469.5h1M750 470.5h1M751 471.5h1M752 472.5h2M754 473.5h1M755 474.5h2M757 475.5h1M758 476.5h1M759 477.5h2M761 478.5h1M762 479.5h2M764 480.5h1M765 481.5h2M799 526.5h1M800 527.5h2M802 528.5h2M804 529.5h2M806 530.5h2M808 531.5h2M810 532.5h2M812 533.5h2M814 534.5h1M815 534.5h2M817 535.5h2M819 536.5h2M821 537.5h2M823 538.5h3M826 539.5h2M828 540.5h2M830 541.5h1M831 541.5h2M833 540.5h2M835 539.5h2M837 538.5h3M840 537.5h2M842 536.5h2M844 535.5h2M846 534.5h1M847 534.5h1M848 533.5h2M850 532.5h2M852 531.5h2M854 530.5h2M856 529.5h1M857 528.5h2M859 527.5h2M861 526.5h2M863 525.5h1M864 524.5h2M866 523.5h1M867 522.5h2M869 521.5h1M870 520.5h2M872 519.5h1M873 518.5h1M874 517.5h2M876 516.5h1M877 515.5h2M927 432.5h1M928 431.5h1M929 430.5h2M931 429.5h1M932 428.5h1M933 427.5h1M934 426.5h2M936 425.5h1M937 424.5h1M938 423.5h1M939 422.5h1M940 421.5h2M942 420.5h1M943 419.5h1M944 420.5h2M946 421.5h1M947 422.5h2M949 423.5h2M951 424.5h1M952 425.5h2M954 426.5h1M955 427.5h2M957 428.5h2M991 580.5h1M992 581.5h2M994 582.5h1M995 583.5h2M997 584.5h2M999 585.5h1M1000 586.5h2M1002 587.5h1M1003 588.5h2M1005 589.5h2M1039 660.5h3M1042 659.5h6M1048 658.5h5M1053 657.5h2M1087 724.5h1M1088 723.5h2M1090 722.5h2M1092 721.5h2M1094 720.5h2M1096 719.5h1M1097 718.5h2M1099 717.5h2M1101 716.5h2M1103 715.5h1M1104 714.5h2M1106 713.5h2M1108 712.5h2M1110 711.5h2M1112 710.5h1M1113 709.5h2M1115 708.5h2M1117 707.5h2M1119 706.5h1M1120 705.5h2M1122 704.5h2M1124 703.5h2M1126 702.5h2M1128 701.5h1M1129 700.5h2M1131 699.5h2M1133 698.5h2M1135 697.5h2M1137 696.5h2M1139 695.5h2M1141 694.5h2M1143 693.5h2M1145 692.5h2M1147 691.5h2M1149 690.5h2M1151 689.5h8M1159 690.5h8M1167 690.5h4M1171 691.5h8M1179 692.5h4M1183 692.5h16M1215 666.5h2M1217 667.5h4M1221 668.5h4M1225 669.5h4M1229 670.5h2M1231 670.5h2M1233 669.5h3M1236 668.5h2M1238 667.5h3M1241 666.5h3M1244 665.5h2M1246 664.5h1M1247 664.5h2M1249 663.5h3M1252 662.5h4M1256 661.5h3M1259 660.5h3M1262 659.5h1M1263 659.5h4M1267 660.5h8M1275 661.5h4M1279 661.5h2M1281 660.5h2M1283 659.5h2M1285 658.5h3M1288 657.5h2M1290 656.5h2M1292 655.5h2M1294 654.5h1M1455 303.5h2M1457 304.5h2M1459 305.5h3M1462 306.5h3M1465 307.5h2M1467 308.5h3M1470 309.5h1M1471 309.5h1M1472 310.5h2M1474 311.5h1M1475 312.5h2M1477 313.5h2M1479 314.5h1M1480 315.5h2M1482 316.5h1M1483 317.5h2M1485 318.5h2M1487 319.5h8M1495 320.5h8M1503 320.5h1M1504 321.5h2M1506 322.5h1M1507 323.5h2M1509 324.5h1M1510 325.5h1M1511 326.5h2M1513 327.5h1M1514 328.5h2M1516 329.5h1M1517 330.5h2M1519 331.5h1M1520 330.5h1M1521 329.5h1M1522 328.5h2M1524 327.5h1M1525 326.5h1M1526 325.5h1M1527 324.5h1M1528 323.5h1M1529 322.5h1M1530 321.5h2M1532 320.5h1M1533 319.5h1M1534 318.5h1M1535 317.5h1M1536 316.5h1M1537 315.5h1M1538 314.5h1M1539 313.5h1M1540 312.5h1M1541 311.5h1M1542 310.5h1M1543 309.5h1M1544 308.5h1M1545 307.5h1M1546 306.5h1M1547 305.5h1M1548 304.5h1M1549 303.5h1M1550 302.5h1M1551 301.5h8M1559 302.5h8M1567 302.5h3M1570 301.5h6M1576 300.5h5M1581 299.5h2M1583 299.5h1M1584 298.5h2M1586 297.5h2M1588 296.5h1M1589 295.5h2M1591 294.5h1M1592 293.5h2M1594 292.5h2M1596 291.5h1M1597 290.5h2M1599 289.5h3M1602 288.5h4M1606 287.5h4M1610 286.5h4M1614 285.5h1M1615 285.5h1M1616 284.5h2M1618 283.5h2M1620 282.5h1M1621 281.5h2M1623 280.5h1M1624 279.5h2M1626 278.5h2M1628 277.5h1M1629 276.5h2M1631 275.5h1M1632 274.5h2M1634 273.5h1M1635 272.5h2M1637 271.5h1M1638 270.5h2M1640 269.5h1M1641 268.5h1M1642 267.5h2M1644 266.5h1M1645 265.5h2M1647 264.5h1M1648 263.5h1M1649 262.5h2M1651 261.5h1M1652 260.5h1M1653 259.5h1M1654 258.5h2M1656 257.5h1M1657 256.5h1M1658 255.5h1M1659 254.5h1M1660 253.5h2M1662 252.5h1M1663 251.5h1M1664 250.5h1M1665 249.5h1M1666 248.5h2M1668 247.5h1M1669 246.5h1M1670 245.5h1M1671 244.5h1M1672 243.5h1M1673 242.5h1M1674 241.5h2M1676 240.5h1M1677 239.5h1M1678 238.5h1M1679 237.5h1M1680 236.5h1M1681 235.5h1M1682 234.5h1M1683 233.5h1M1684 232.5h1M1685 231.5h1M1686 230.5h2M1688 229.5h1M1689 228.5h1M1690 227.5h1M1691 226.5h1M1692 225.5h1M1693 224.5h1M1694 223.5h1M1743 247.5h16M1871 505.5h1M1872 506.5h2M1874 507.5h2M1876 508.5h2M1878 509.5h1M1879 510.5h2M1881 511.5h2M1883 512.5h2M1885 513.5h2M1887 514.5h1M1888 513.5h2M1890 512.5h2M1892 511.5h1M1893 510.5h2M1895 509.5h1M1896 508.5h2M1898 507.5h2M1900 506.5h1M1901 505.5h2M1919 486.5h1M1920 485.5h2M1922 484.5h1M1923 483.5h2M1925 482.5h1M1926 481.5h2M1928 480.5h1M1929 479.5h1M1930 478.5h2M1932 477.5h1M1933 476.5h2M1935 475.5h3M1938 474.5h6M1944 473.5h5M1949 472.5h2M1951 472.5h4M1955 473.5h8M1963 474.5h4M1967 474.5h2M1969 473.5h3M1972 472.5h4M1976 471.5h3M1979 470.5h3M1982 469.5h1M1983 469.5h2M1985 470.5h2M1987 471.5h3M1990 472.5h3M1993 473.5h2M1995 474.5h3M1998 475.5h1M1999 475.5h3M2002 474.5h6M2008 473.5h5M2013 472.5h2M2015 472.5h1M2016 471.5h1M2017 470.5h1M2018 469.5h1M2019 468.5h1M2020 467.5h1M2021 466.5h1M2022 465.5h2M2024 464.5h1M2025 463.5h1M2026 462.5h1M2027 461.5h1M2028 460.5h1M2029 459.5h1M2030 458.5h1M2031 457.5h2M2033 458.5h4M2037 459.5h4M2041 460.5h4M2045 461.5h2M2047 461.5h3M2050 460.5h6M2056 459.5h5M2061 458.5h2M2063 458.5h5M2068 457.5h8M2076 456.5h3M175.5 199v1M176.5 200v1M177.5 201v2M178.5 203v1M179.5 204v1M180.5 205v1M181.5 206v2M182.5 208v1M183.5 209v1M184.5 210v1M185.5 211v2M186.5 213v1M187.5 214v1M188.5 215v1M189.5 216v2M190.5 218v1M239.5 213v1M240.5 211v2M241.5 210v1M242.5 208v2M243.5 207v1M244.5 206v1M245.5 204v2M246.5 203v1M247.5 201v2M248.5 200v1M249.5 198v2M250.5 197v1M251.5 196v1M252.5 194v2M253.5 193v1M254.5 191v2M255.5 190v1M256.5 188v2M257.5 186v2M258.5 185v1M259.5 183v2M260.5 182v1M261.5 180v2M262.5 178v2M263.5 177v1M264.5 175v2M265.5 173v2M266.5 172v1M267.5 170v2M268.5 169v1M269.5 167v2M270.5 165v2M543.5 151v1M544.5 152v1M545.5 153v1M546.5 154v2M547.5 156v1M548.5 157v1M549.5 158v1M550.5 159v1M551.5 160v2M552.5 162v1M553.5 163v1M554.5 164v1M555.5 165v1M556.5 166v2M557.5 168v1M558.5 169v1M559.5 170v1M560.5 171v2M561.5 173v2M562.5 175v1M563.5 176v2M564.5 178v1M565.5 179v2M566.5 181v2M567.5 183v1M568.5 184v2M569.5 186v2M570.5 188v1M571.5 189v2M572.5 191v1M573.5 192v2M574.5 194v2M575.5 196v2M576.5 198v2M577.5 200v3M578.5 203v2M579.5 205v2M580.5 207v3M581.5 210v2M582.5 212v3M583.5 215v2M584.5 217v3M585.5 220v2M586.5 222v3M587.5 225v2M588.5 227v2M589.5 229v3M590.5 232v2M591.5 234v1M591.5 235v2M592.5 237v3M593.5 240v3M594.5 243v3M595.5 246v2M596.5 248v3M597.5 251v3M598.5 254v3M599.5 257v3M600.5 260v3M601.5 263v3M602.5 266v3M603.5 269v2M604.5 271v3M605.5 274v3M606.5 277v3M607.5 280v1M607.5 281v1M608.5 282v1M609.5 283v1M610.5 284v1M611.5 285v2M612.5 287v1M613.5 288v1M614.5 289v1M615.5 290v1M616.5 291v1M617.5 292v1M618.5 293v1M619.5 294v2M620.5 296v1M621.5 297v1M622.5 298v1M639.5 301v2M640.5 303v3M641.5 306v2M642.5 308v3M643.5 311v3M644.5 314v3M645.5 317v2M646.5 319v3M647.5 322v3M648.5 325v3M649.5 328v2M650.5 330v3M651.5 333v3M652.5 336v3M653.5 339v2M654.5 341v3M655.5 344v1M655.5 345v1M656.5 346v1M657.5 347v1M658.5 348v2M659.5 350v1M660.5 351v1M661.5 352v1M662.5 353v1M663.5 354v2M664.5 356v1M665.5 357v1M666.5 358v1M667.5 359v1M668.5 360v2M669.5 362v1M670.5 363v1M703.5 375v2M704.5 377v3M705.5 380v2M706.5 382v3M707.5 385v3M708.5 388v3M709.5 391v2M710.5 393v3M711.5 396v3M712.5 399v3M713.5 402v2M714.5 404v3M715.5 407v3M716.5 410v3M717.5 413v2M718.5 415v3M719.5 418v1M719.5 419v2M720.5 421v2M721.5 423v2M722.5 425v2M723.5 427v3M724.5 430v2M725.5 432v2M726.5 434v2M727.5 436v3M728.5 439v2M729.5 441v2M730.5 443v2M731.5 445v3M732.5 448v2M733.5 450v2M734.5 452v2M735.5 454v1M767.5 482v1M768.5 483v1M769.5 484v2M770.5 486v1M771.5 487v1M772.5 488v1M773.5 489v2M774.5 491v1M775.5 492v1M776.5 493v1M777.5 494v2M778.5 496v1M779.5 497v1M780.5 498v1M781.5 499v2M782.5 501v1M783.5 502v1M784.5 503v2M785.5 505v1M786.5 506v2M787.5 508v1M788.5 509v2M789.5 511v1M790.5 512v2M791.5 514v1M792.5 515v2M793.5 517v1M794.5 518v2M795.5 520v1M796.5 521v2M797.5 523v1M798.5 524v2M879.5 513v2M880.5 511v2M881.5 509v2M882.5 507v2M883.5 505v2M884.5 503v2M885.5 501v2M886.5 499v2M887.5 496v3M888.5 494v2M889.5 492v2M890.5 490v2M891.5 488v2M892.5 486v2M893.5 484v2M894.5 482v2M895.5 481v1M895.5 480v1M896.5 478v2M897.5 477v1M898.5 475v2M899.5 474v1M900.5 472v2M901.5 471v1M902.5 469v2M903.5 468v1M904.5 466v2M905.5 465v1M906.5 463v2M907.5 462v1M908.5 460v2M909.5 459v1M910.5 457v2M911.5 456v1M912.5 454v2M913.5 453v1M914.5 451v2M915.5 450v1M916.5 448v2M917.5 447v1M918.5 445v2M919.5 444v1M920.5 442v2M921.5 441v1M922.5 439v2M923.5 438v1M924.5 436v2M925.5 435v1M926.5 433v2M959.5 429v4M960.5 433v7M961.5 440v7M962.5 447v7M963.5 454v7M964.5 461v7M965.5 468v7M966.5 475v7M967.5 482v7M968.5 489v7M969.5 496v7M970.5 503v7M971.5 510v7M972.5 517v7M973.5 524v7M974.5 531v7M975.5 538v3M975.5 541v2M976.5 543v2M977.5 545v3M978.5 548v2M979.5 550v2M980.5 552v3M981.5 555v2M982.5 557v3M983.5 560v2M984.5 562v3M985.5 565v2M986.5 567v3M987.5 570v2M988.5 572v2M989.5 574v3M990.5 577v2M991.5 579v1M1007.5 590v2M1008.5 592v3M1009.5 595v3M1010.5 598v3M1011.5 601v4M1012.5 605v3M1013.5 608v3M1014.5 611v3M1015.5 614v3M1016.5 617v3M1017.5 620v3M1018.5 623v3M1019.5 626v4M1020.5 630v3M1021.5 633v3M1022.5 636v3M1023.5 639v1M1023.5 640v1M1024.5 641v1M1025.5 642v2M1026.5 644v1M1027.5 645v1M1028.5 646v1M1029.5 647v2M1030.5 649v1M1031.5 650v1M1032.5 651v1M1033.5 652v2M1034.5 654v1M1035.5 655v1M1036.5 656v1M1037.5 657v2M1038.5 659v1M1055.5 657v2M1056.5 659v2M1057.5 661v2M1058.5 663v2M1059.5 665v2M1060.5 667v2M1061.5 669v2M1062.5 671v2M1063.5 673v3M1064.5 676v2M1065.5 678v2M1066.5 680v2M1067.5 682v2M1068.5 684v2M1069.5 686v2M1070.5 688v2M1071.5 690v1M1071.5 691v2M1072.5 693v2M1073.5 695v2M1074.5 697v2M1075.5 699v2M1076.5 701v2M1077.5 703v2M1078.5 705v2M1079.5 707v2M1080.5 709v2M1081.5 711v2M1082.5 713v2M1083.5 715v2M1084.5 717v2M1085.5 719v2M1086.5 721v2M1087.5 723v1M1199.5 692v1M1200.5 690v2M1201.5 688v2M1202.5 687v1M1203.5 685v2M1204.5 684v1M1205.5 682v2M1206.5 680v2M1207.5 679v1M1208.5 677v2M1209.5 675v2M1210.5 674v1M1211.5 672v2M1212.5 671v1M1213.5 669v2M1214.5 667v2M1295.5 654v1M1296.5 653v1M1297.5 651v2M1298.5 650v1M1299.5 649v1M1300.5 648v1M1301.5 646v2M1302.5 645v1M1303.5 644v1M1304.5 643v1M1305.5 641v2M1306.5 640v1M1307.5 639v1M1308.5 638v1M1309.5 636v2M1310.5 635v1M1311.5 634v1M1312.5 632v2M1313.5 630v2M1314.5 628v2M1315.5 627v1M1316.5 625v2M1317.5 623v2M1318.5 621v2M1319.5 620v1M1320.5 618v2M1321.5 616v2M1322.5 614v2M1323.5 613v1M1324.5 611v2M1325.5 609v2M1326.5 607v2M1327.5 605v2M1328.5 603v2M1329.5 601v2M1330.5 599v2M1331.5 596v3M1332.5 594v2M1333.5 592v2M1334.5 590v2M1335.5 587v3M1336.5 585v2M1337.5 583v2M1338.5 581v2M1339.5 578v3M1340.5 576v2M1341.5 574v2M1342.5 572v2M1343.5 571v1M1343.5 570v1M1344.5 569v1M1345.5 568v1M1346.5 567v1M1347.5 565v2M1348.5 564v1M1349.5 563v1M1350.5 562v1M1351.5 561v1M1352.5 560v1M1353.5 559v1M1354.5 558v1M1355.5 556v2M1356.5 555v1M1357.5 554v1M1358.5 553v1M1359.5 552v1M1360.5 550v2M1361.5 548v2M1362.5 546v2M1363.5 544v2M1364.5 542v2M1365.5 540v2M1366.5 538v2M1367.5 536v2M1368.5 534v2M1369.5 532v2M1370.5 530v2M1371.5 528v2M1372.5 526v2M1373.5 524v2M1374.5 522v2M1375.5 520v2M1376.5 517v3M1377.5 514v3M1378.5 512v2M1379.5 509v3M1380.5 506v3M1381.5 503v3M1382.5 500v3M1383.5 498v2M1384.5 495v3M1385.5 492v3M1386.5 489v3M1387.5 486v3M1388.5 484v2M1389.5 481v3M1390.5 478v3M1391.5 477v1M1391.5 475v2M1392.5 472v3M1393.5 469v3M1394.5 466v3M1395.5 462v4M1396.5 459v3M1397.5 456v3M1398.5 453v3M1399.5 450v3M1400.5 447v3M1401.5 444v3M1402.5 441v3M1403.5 437v4M1404.5 434v3M1405.5 431v3M1406.5 428v3M1407.5 427v1M1407.5 425v2M1408.5 423v2M1409.5 420v3M1410.5 417v3M1411.5 415v2M1412.5 412v3M1413.5 409v3M1414.5 407v2M1415.5 404v3M1416.5 402v2M1417.5 399v3M1418.5 396v3M1419.5 394v2M1420.5 391v3M1421.5 388v3M1422.5 386v2M1423.5 385v1M1423.5 383v2M1424.5 380v3M1425.5 378v2M1426.5 375v3M1427.5 372v3M1428.5 369v3M1429.5 367v2M1430.5 364v3M1431.5 361v3M1432.5 358v3M1433.5 356v2M1434.5 353v3M1435.5 350v3M1436.5 347v3M1437.5 345v2M1438.5 342v3M1439.5 341v1M1439.5 339v2M1440.5 337v2M1441.5 335v2M1442.5 332v3M1443.5 330v2M1444.5 328v2M1445.5 325v3M1446.5 323v2M1447.5 321v2M1448.5 319v2M1449.5 316v3M1450.5 314v2M1451.5 312v2M1452.5 309v3M1453.5 307v2M1454.5 305v2M1455.5 304v1M1695.5 222v1M1696.5 221v1M1697.5 219v2M1698.5 218v1M1699.5 217v1M1700.5 216v1M1701.5 214v2M1702.5 213v1M1703.5 212v1M1704.5 211v1M1705.5 209v2M1706.5 208v1M1707.5 207v1M1708.5 206v1M1709.5 204v2M1710.5 203v1M1711.5 202v1M1712.5 203v1M1713.5 204v1M1714.5 205v1M1715.5 206v2M1716.5 208v1M1717.5 209v1M1718.5 210v1M1719.5 211v1M1720.5 212v1M1721.5 213v1M1722.5 214v1M1723.5 215v2M1724.5 217v1M1725.5 218v1M1726.5 219v1M1727.5 220v1M1728.5 221v2M1729.5 223v2M1730.5 225v1M1731.5 226v2M1732.5 228v2M1733.5 230v1M1734.5 231v2M1735.5 233v2M1736.5 235v2M1737.5 237v1M1738.5 238v2M1739.5 240v2M1740.5 242v1M1741.5 243v2M1742.5 245v2M1759.5 247v1M1760.5 248v2M1761.5 250v1M1762.5 251v2M1763.5 253v2M1764.5 255v1M1765.5 256v2M1766.5 258v1M1767.5 259v2M1768.5 261v1M1769.5 262v2M1770.5 264v1M1771.5 265v2M1772.5 267v2M1773.5 269v1M1774.5 270v2M1775.5 272v1M1776.5 273v2M1777.5 275v1M1778.5 276v2M1779.5 278v1M1780.5 279v1M1781.5 280v2M1782.5 282v1M1783.5 283v2M1784.5 285v1M1785.5 286v2M1786.5 288v1M1787.5 289v1M1788.5 290v2M1789.5 292v1M1790.5 293v2M1791.5 295v3M1792.5 298v5M1793.5 303v5M1794.5 308v4M1795.5 312v5M1796.5 317v5M1797.5 322v5M1798.5 327v5M1799.5 332v4M1800.5 336v5M1801.5 341v5M1802.5 346v5M1803.5 351v5M1804.5 356v4M1805.5 360v5M1806.5 365v5M1807.5 370v2M1807.5 372v2M1808.5 374v3M1809.5 377v3M1810.5 380v2M1811.5 382v3M1812.5 385v3M1813.5 388v3M1814.5 391v3M1815.5 394v2M1816.5 396v3M1817.5 399v3M1818.5 402v3M1819.5 405v3M1820.5 408v2M1821.5 410v3M1822.5 413v3M1823.5 416v1M1823.5 417v2M1824.5 419v2M1825.5 421v3M1826.5 424v3M1827.5 427v2M1828.5 429v3M1829.5 432v3M1830.5 435v2M1831.5 437v3M1832.5 440v2M1833.5 442v3M1834.5 445v3M1835.5 448v2M1836.5 450v3M1837.5 453v3M1838.5 456v2M1839.5 458v1M1839.5 459v1M1840.5 460v2M1841.5 462v2M1842.5 464v1M1843.5 465v2M1844.5 467v1M1845.5 468v2M1846.5 470v2M1847.5 472v1M1848.5 473v2M1849.5 475v2M1850.5 477v1M1851.5 478v2M1852.5 480v1M1853.5 481v2M1854.5 483v2M1855.5 485v1M1856.5 486v1M1857.5 487v2M1858.5 489v1M1859.5 490v1M1860.5 491v1M1861.5 492v2M1862.5 494v1M1863.5 495v1M1864.5 496v1M1865.5 497v2M1866.5 499v1M1867.5 500v1M1868.5 501v1M1869.5 502v2M1870.5 504v1M1903.5 504v1M1904.5 503v1M1905.5 502v1M1906.5 501v1M1907.5 499v2M1908.5 498v1M1909.5 497v1M1910.5 496v1M1911.5 495v1M1912.5 494v1M1913.5 493v1M1914.5 492v1M1915.5 490v2M1916.5 489v1M1917.5 488v1M1918.5 487v1M2079.5 456v1M2080.5 457v1M2081.5 458v2M2082.5 460v1M2083.5 461v1M2084.5 462v1M2085.5 463v2M2086.5 465v1M2087.5 466v1M2088.5 467v1M2089.5 468v2M2090.5 470v1M2091.5 471v1M2092.5 472v1M2093.5 473v2M2094.5 475v1M2095.5 476v2M2096.5 478v2M2097.5 480v2M2098.5 482v2M2099.5 484v3M2100.5 487v2M2101.5 489v2M2102.5 491v2M2103.5 493v3M2104.5 496v2M2105.5 498v2M2106.5 500v2M2107.5 502v3M2108.5 505v2M2109.5 507v2M2110.5 509v2M2111.5 511v1M2111.5 512v1M2112.5 513v2M2113.5 515v2M2114.5 517v1M2115.5 518v2M2116.5 520v2M2117.5 522v1M2118.5 523v2M2119.5 525v2M2120.5 527v2M2121.5 529v1M2122.5 530v2M2123.5 532v2M2124.5 534v1M2125.5 535v2M2126.5 537v2M2127.5 539v1M2128.5 540v2M2129.5 542v1M2130.5 543v1M2131.5 544v2M2132.5 546v1M2133.5 547v1M2134.5 548v2M2135.5 550v1M2136.5 551v2M2137.5 553v1M2138.5 554v1M2139.5 555v2M2140.5 557v1M2141.5 558v1M2142.5 559v2" fill="none" stroke="#ff0000" stroke-width="1"/>
</g>
<path d="M0 1h2147v1h-2147zM0 767h2147v1h-2147zM0 769h2147v1h-2147zM0 856h2151v1h-2151zM2146 1h1v856h-1z" fill="#000"/>
<path d="M2147 10h4v1h-4zM2147 42h4v1h-4zM2147 73h4v1h-4zM2147 105h4v1h-4zM2147 136h4v1h-4zM2147 168h4v1h-4zM2147 199h4v1h-4zM2147 231h4v1h-4zM2147 263h4v1h-4zM2147 294h4v1h-4zM2147 326h4v1h-4zM2147 357h4v1h-4zM2147 389h4v1h-4zM2147 420h4v1h-4zM2147 452h4v1h-4zM2147 483h4v1h-4zM2147 515h4v1h-4zM2147 546h4v1h-4zM2147 578h4v1h-4zM2147 609h4v1h-4zM2147 641h4v1h-4zM2147 672h4v1h-4zM2147 704h4v1h-4zM2147 735h4v1h-4zM2147 803h4v1h-4zM2147 836h4v1h-4zM63 857h1v4h-1zM127 857h1v4h-1zM191 857h1v4h-1zM255 857h1v4h-1zM319 857h1v4h-1zM383 857h1v4h-1zM447 857h1v4h-1zM511 857h1v4h-1zM575 857h1v4h-1zM639 857h1v4h-1zM703 857h1v4h-1zM767 857h1v4h-1zM831 857h1v4h-1zM895 857h1v4h-1zM959 857h1v4h-1zM1023 857h1v4h-1zM1087 857h1v4h-1zM1151 857h1v4h-1zM1215 857h1v4h-1zM1279 857h1v4h-1zM1343 857h1v4h-1zM1407 857h1v4h-1zM1471 857h1v4h-1zM1535 857h1v4h-1zM1599 857h1v4h-1zM1663 857h1v4h-1zM1727 857h1v4h-1zM1791 857h1v4h-1zM1855 857h1v4h-1zM1919 857h1v4h-1zM1983 857h1v4h-1zM2047 857h1v4h-1zM2111 857h1v4h-1z" fill="#000"/>
<line x1="0" y1="803.5" x2="2146" y2="803.5" stroke="#c0c0c0" stroke-width="1" stroke-dasharray="3,3" stroke-dashoffset="1"/>
<line x1="0" y1="836.5" x2="2146" y2="836.5" stroke="#c0c0c0" stroke-width="1" stroke-dasharray="3,3" stroke-dashoffset="1"/>
<g clip-path="url(#ci)"><path d="M-1 808.5h16M15 808.5h16M31 808.5h16M47 808.5h9M56 807.5h7M63 807.5h8M71 808.5h8M79 808.5h8M87 809.5h8M95 809.5h16M111 809.5h8M119 810.5h8M127 810.5h4M131 811.5h8M139 812.5h4M143 812.5h4M147 813.5h8M155 814.5h4M159 814.5h8M167 815.5h8M175 815.5h2M177 816.5h2M179 817.5h3M182 818.5h3M185 819.5h2M187 820.5h3M190 821.5h1M191 821.5h9M200 820.5h7M207 820.5h3M210 819.5h6M216 818.5h5M221 817.5h2M223 817.5h8M231 818.5h8M239 818.5h2M241 817.5h2M243 816.5h2M245 815.5h3M248 814.5h2M250 813.5h2M252 812.5h2M254 811.5h1M255 811.5h2M257 810.5h3M260 809.5h2M262 808.5h3M265 807.5h3M268 806.5h2M270 805.5h1M271 805.5h8M279 806.5h8M287 806.5h4M291 807.5h8M299 808.5h4M303 808.5h9M312 807.5h7M319 807.5h9M328 806.5h7M335 806.5h8M343 807.5h8M351 807.5h3M354 808.5h5M359 809.5h6M365 810.5h2M367 810.5h4M371 811.5h8M379 812.5h4M383 812.5h8M391 813.5h8M399 813.5h3M402 814.5h5M407 815.5h6M413 816.5h2M415 816.5h8M423 817.5h8M431 817.5h9M440 816.5h7M447 816.5h5M452 815.5h8M460 814.5h3M463 814.5h16M479 814.5h16M495 814.5h2M497 815.5h2M499 816.5h3M502 817.5h3M505 818.5h2M507 819.5h3M510 820.5h1M511 820.5h4M515 821.5h8M523 822.5h4M527 822.5h16M543 822.5h2M545 823.5h3M548 824.5h3M551 825.5h4M555 826.5h3M558 827.5h1M559 827.5h2M561 828.5h2M563 829.5h3M566 830.5h3M569 831.5h2M571 832.5h3M574 833.5h1M575 833.5h1M576 834.5h2M578 835.5h2M580 836.5h2M582 837.5h2M584 838.5h2M586 839.5h2M588 840.5h2M590 841.5h1M591 841.5h2M593 842.5h2M595 843.5h2M597 844.5h2M599 845.5h3M602 846.5h2M604 847.5h2M606 848.5h1M607 848.5h3M610 847.5h4M614 846.5h4M618 845.5h4M622 844.5h1M623 844.5h3M626 843.5h6M632 842.5h5M637 841.5h2M639 841.5h4M643 842.5h8M651 843.5h4M655 843.5h5M660 842.5h8M668 841.5h3M671 841.5h3M674 840.5h6M680 839.5h5M685 838.5h2M687 838.5h5M692 837.5h8M700 836.5h3M703 836.5h2M705 837.5h4M709 838.5h4M713 839.5h4M717 840.5h2M719 840.5h4M723 841.5h8M731 842.5h4M735 842.5h8M743 843.5h8M751 843.5h9M760 842.5h7M767 842.5h8M775 843.5h8M783 843.5h4M787 844.5h8M795 845.5h4M799 845.5h9M808 844.5h7M815 844.5h16M831 844.5h5M836 843.5h8M844 842.5h3M847 842.5h5M852 841.5h8M860 840.5h3M863 840.5h3M866 839.5h4M870 838.5h4M874 837.5h4M878 836.5h1M879 836.5h2M881 835.5h2M883 834.5h2M885 833.5h2M887 832.5h2M889 831.5h2M891 830.5h2M893 829.5h2M895 828.5h3M898 827.5h4M902 826.5h4M906 825.5h4M910 824.5h1M911 824.5h2M913 823.5h3M916 822.5h4M920 821.5h3M923 820.5h3M926 819.5h1M927 819.5h3M930 818.5h6M936 817.5h5M941 816.5h2M943 816.5h3M946 817.5h5M951 818.5h6M957 819.5h2M975 836.5h8M983 837.5h8M991 837.5h3M994 836.5h6M1000 835.5h5M1005 834.5h2M1007 834.5h3M1010 835.5h5M1015 836.5h6M1021 837.5h2M1023 837.5h5M1028 836.5h8M1036 835.5h3M1039 835.5h3M1042 834.5h6M1048 833.5h5M1053 832.5h2M1055 832.5h8M1063 833.5h8M1071 833.5h8M1079 834.5h8M1087 834.5h3M1090 833.5h6M1096 832.5h5M1101 831.5h2M1103 831.5h3M1106 830.5h6M1112 829.5h5M1117 828.5h2M1119 828.5h5M1124 827.5h8M1132 826.5h3M1135 826.5h9M1144 825.5h7M1151 825.5h16M1167 825.5h16M1183 825.5h16M1199 825.5h9M1208 824.5h7M1215 824.5h8M1223 825.5h8M1231 825.5h9M1240 824.5h7M1247 824.5h16M1263 824.5h8M1271 825.5h8M1279 825.5h9M1288 824.5h7M1295 824.5h3M1298 823.5h6M1304 822.5h5M1309 821.5h2M1311 821.5h3M1314 820.5h4M1318 819.5h4M1322 818.5h4M1326 817.5h1M1327 817.5h2M1329 816.5h3M1332 815.5h4M1336 814.5h3M1339 813.5h3M1342 812.5h1M1343 812.5h2M1345 811.5h2M1347 810.5h2M1349 809.5h2M1351 808.5h2M1353 807.5h2M1355 806.5h2M1357 805.5h2M1359 804.5h2M1361 803.5h3M1364 802.5h4M1368 801.5h3M1371 800.5h3M1374 799.5h1M1375 799.5h2M1377 798.5h2M1379 797.5h2M1381 796.5h3M1384 795.5h2M1386 794.5h2M1388 793.5h2M1390 792.5h1M1391 792.5h2M1393 791.5h3M1396 790.5h2M1398 789.5h3M1401 788.5h3M1404 787.5h2M1406 786.5h1M1407 786.5h2M1409 785.5h3M1412 784.5h4M1416 783.5h3M1419 782.5h3M1422 781.5h1M1423 781.5h5M1428 780.5h8M1436 779.5h3M1439 779.5h5M1444 778.5h8M1452 777.5h3M1455 777.5h2M1457 778.5h2M1459 779.5h2M1461 780.5h2M1463 781.5h3M1466 782.5h2M1468 783.5h2M1470 784.5h1M1471 784.5h2M1473 785.5h2M1475 786.5h3M1478 787.5h3M1481 788.5h2M1483 789.5h3M1486 790.5h1M1487 790.5h2M1489 791.5h4M1493 792.5h4M1497 793.5h4M1501 794.5h2M1503 794.5h2M1505 795.5h4M1509 796.5h4M1513 797.5h4M1517 798.5h2M1519 798.5h16M1535 798.5h16M1551 798.5h4M1555 799.5h8M1563 800.5h4M1567 800.5h4M1571 801.5h8M1579 802.5h4M1583 802.5h8M1591 803.5h8M1599 803.5h8M1607 804.5h8M1615 804.5h16M1631 804.5h9M1640 803.5h7M1647 803.5h9M1656 802.5h7M1663 802.5h9M1672 801.5h7M1679 801.5h3M1682 800.5h6M1688 799.5h5M1693 798.5h2M1695 798.5h5M1700 797.5h8M1708 796.5h3M1711 796.5h1M1712 797.5h2M1714 798.5h2M1716 799.5h2M1718 800.5h2M1720 801.5h2M1722 802.5h2M1724 803.5h2M1726 804.5h1M1727 804.5h1M1728 805.5h2M1730 806.5h2M1732 807.5h2M1734 808.5h1M1735 809.5h2M1737 810.5h2M1739 811.5h2M1741 812.5h2M1743 813.5h8M1751 814.5h8M1759 814.5h2M1761 815.5h2M1763 816.5h2M1765 817.5h2M1767 818.5h3M1770 819.5h2M1772 820.5h2M1774 821.5h1M1775 821.5h2M1777 822.5h4M1781 823.5h4M1785 824.5h4M1789 825.5h2M1791 825.5h1M1792 826.5h2M1794 827.5h2M1796 828.5h2M1798 829.5h2M1800 830.5h2M1802 831.5h2M1804 832.5h2M1806 833.5h1M1807 833.5h2M1809 834.5h2M1811 835.5h2M1813 836.5h2M1815 837.5h3M1818 838.5h2M1820 839.5h2M1822 840.5h1M1823 840.5h2M1825 841.5h3M1828 842.5h3M1831 843.5h4M1835 844.5h3M1838 845.5h1M1839 845.5h3M1842 846.5h5M1847 847.5h6M1853 848.5h2M1855 848.5h16M1871 848.5h16M1887 848.5h2M1889 847.5h2M1891 846.5h2M1893 845.5h3M1896 844.5h2M1898 843.5h2M1900 842.5h2M1902 841.5h1M1903 841.5h2M1905 840.5h3M1908 839.5h2M1910 838.5h3M1913 837.5h3M1916 836.5h2M1918 835.5h1M1919 835.5h3M1922 834.5h4M1926 833.5h4M1930 832.5h4M1934 831.5h1M1935 831.5h9M1944 830.5h7M1951 830.5h9M1960 829.5h7M1967 829.5h16M1983 829.5h8M1991 830.5h8M1999 830.5h9M2008 829.5h7M2015 829.5h3M2018 828.5h4M2022 827.5h4M2026 826.5h4M2030 825.5h1M2031 825.5h8M2039 826.5h8M2047 826.5h16M2063 826.5h8M2071 827.5h8M2079 827.5h2M2081 828.5h4M2085 829.5h4M2089 830.5h4M2093 831.5h2M2095 831.5h2M2097 832.5h2M2099 833.5h2M2101 834.5h2M2103 835.5h3M2106 836.5h2M2108 837.5h2M2110 838.5h1M2111 838.5h2M2113 839.5h3M2116 840.5h3M2119 841.5h4M2123 842.5h3M2126 843.5h1M2127 843.5h4M2131 844.5h8M2139 845.5h4M959.5 819v1M960.5 820v1M961.5 821v1M962.5 822v1M963.5 823v1M964.5 824v1M965.5 825v1M966.5 826v1M967.5 827v2M968.5 829v1M969.5 830v1M970.5 831v1M971.5 832v1M972.5 833v1M973.5 834v1M974.5 835v1" fill="none" stroke="#cd5050" stroke-width="1"/></g>
<circle cx="1073.9" cy="681.2" r="22.8" fill="none" stroke="#000" stroke-width="1.9" shape-rendering="auto"/>
<g shape-rendering="auto">
<rect x="4.5" y="7.5" width="14" height="10" rx="1.5" fill="#fff" stroke="#d33" stroke-width="1"/>
<path d="M11.5 7.5h5.5a1.5 1.5 0 0 1 1.5 1.5v7a1.5 1.5 0 0 1 -1.5 1.5h-5.5" fill="none" stroke="#2b6cc4" stroke-width="1"/>
<rect x="6" y="9.5" width="4.5" height="1.2" fill="#e0483a"/><rect x="6" y="12" width="4.5" height="1.2" fill="#e0483a"/><rect x="6" y="14.5" width="4.5" height="1.2" fill="#e0483a"/>
<rect x="12.5" y="9.5" width="4.5" height="1.2" fill="#2b6cc4"/><rect x="12.5" y="12" width="4.5" height="1.2" fill="#2b6cc4"/><rect x="12.5" y="14.5" width="4.5" height="1.2" fill="#2b6cc4"/>
</g>
</svg>
<div id="tx">
<div class="t ax" style="top:6.3px">1.07540</div>
<div class="t ax" style="top:38.3px">1.07505</div>
<div class="t ax" style="top:69.3px">1.07470</div>
<div class="t ax" style="top:101.3px">1.07435</div>
<div class="t ax" style="top:132.3px">1.07400</div>
<div class="t ax" style="top:164.3px">1.07365</div>
<div class="t ax" style="top:195.3px">1.07330</div>
<div class="t ax" style="top:227.3px">1.07295</div>
<div class="t ax" style="top:259.3px">1.07260</div>
<div class="t ax" style="top:290.3px">1.07225</div>
<div class="t ax" style="top:322.3px">1.07190</div>
<div class="t ax" style="top:353.3px">1.07155</div>
<div class="t ax" style="top:385.3px">1.07120</div>
<div class="t ax" style="top:416.3px">1.07085</div>
<div class="t ax" style="top:448.3px">1.07050</div>
<div class="t ax" style="top:479.3px">1.07015</div>
<div class="t ax" style="top:511.3px">1.06980</div>
<div class="t ax" style="top:542.3px">1.06945</div>
<div class="t ax" style="top:574.3px">1.06910</div>
<div class="t ax" style="top:605.3px">1.06875</div>
<div class="t ax" style="top:637.3px">1.06840</div>
<div class="t ax" style="top:668.3px">1.06805</div>
<div class="t ax" style="top:700.3px">1.06770</div>
<div class="t ax" style="top:731.3px">1.06735</div>
<div class="t ax" style="top:770.5px;left:2151.6px">78.67842</div>
<div class="t ax" style="top:799.2px;">25.00000</div>
<div class="t ax" style="top:832.2px;">-25.00000</div>
<div class="t ax" style="top:847px;">-56.72475</div>
<div class="t dt" style="left:0px">18 Jun 2024</div>
<div class="t dt" style="left:63px">19 Jun 01:00</div>
<div class="t dt" style="left:127px">19 Jun 05:00</div>
<div class="t dt" style="left:191px">19 Jun 09:00</div>
<div class="t dt" style="left:255px">19 Jun 13:00</div>
<div class="t dt" style="left:319px">19 Jun 17:00</div>
<div class="t dt" style="left:383px">19 Jun 21:00</div>
<div class="t dt" style="left:447px">20 Jun 01:00</div>
<div class="t dt" style="left:511px">20 Jun 05:00</div>
<div class="t dt" style="left:575px">20 Jun 09:00</div>
<div class="t dt" style="left:639px">20 Jun 13:00</div>
<div class="t dt" style="left:703px">20 Jun 17:00</div>
<div class="t dt" style="left:767px">20 Jun 21:00</div>
<div class="t dt" style="left:831px">21 Jun 01:00</div>
<div class="t dt" style="left:895px">21 Jun 05:00</div>
<div class="t dt" style="left:959px">21 Jun 09:00</div>
<div class="t dt" style="left:1023px">21 Jun 13:00</div>
<div class="t dt" style="left:1087px">21 Jun 17:00</div>
<div class="t dt" style="left:1151px">21 Jun 21:00</div>
<div class="t dt" style="left:1215px">24 Jun 01:00</div>
<div class="t dt" style="left:1279px">24 Jun 05:00</div>
<div class="t dt" style="left:1343px">24 Jun 09:00</div>
<div class="t dt" style="left:1407px">24 Jun 13:00</div>
<div class="t dt" style="left:1471px">24 Jun 17:00</div>
<div class="t dt" style="left:1535px">24 Jun 21:00</div>
<div class="t dt" style="left:1599px">25 Jun 01:00</div>
<div class="t dt" style="left:1663px">25 Jun 05:00</div>
<div class="t dt" style="left:1727px">25 Jun 09:00</div>
<div class="t dt" style="left:1791px">25 Jun 13:00</div>
<div class="t dt" style="left:1855px">25 Jun 17:00</div>
<div class="t dt" style="left:1919px">25 Jun 21:00</div>
<div class="t dt" style="left:1983px">26 Jun 01:00</div>
<div class="t dt" style="left:2047px">26 Jun 05:00</div>
<div class="t dt" style="left:2111px">26 Jun 09:00</div>
<div class="t sm" id="title" style="left:24px;top:8px;">EURUSD, H1:&nbsp; Euro vs US Dollar</div>
<div class="t sm" id="tsi" style="left:3px;top:773.4px;letter-spacing:-0.08px">True Strength Index (7,14) 50.39711</div>
<div class="t sm" id="ob" style="left:3px;top:792.4px;">Overbought</div>
<div class="t sm" id="os" style="left:3px;top:825.4px;">Oversold</div>
<div class="t" id="at" style="left:3.6px;top:838.4px;font-size:16.6px;">@</div>
<div class="t" id="wm" style="left:24.5px;top:837.7px;font-size:19.2px;font-weight:bold;-webkit-text-stroke:0.6px #000;letter-spacing:0.25px;transform-origin:0 0;transform:scaleX(1.113);">ForexMT4Indicators.com</div>
<div class="t" id="buy" style="left:1103.2px;top:679.7px;font-size:36px;font-weight:bold;-webkit-text-stroke:1.6px #000;transform-origin:0 0;transform:scaleX(1.11);">Buy</div>
</div>
</body></html>
